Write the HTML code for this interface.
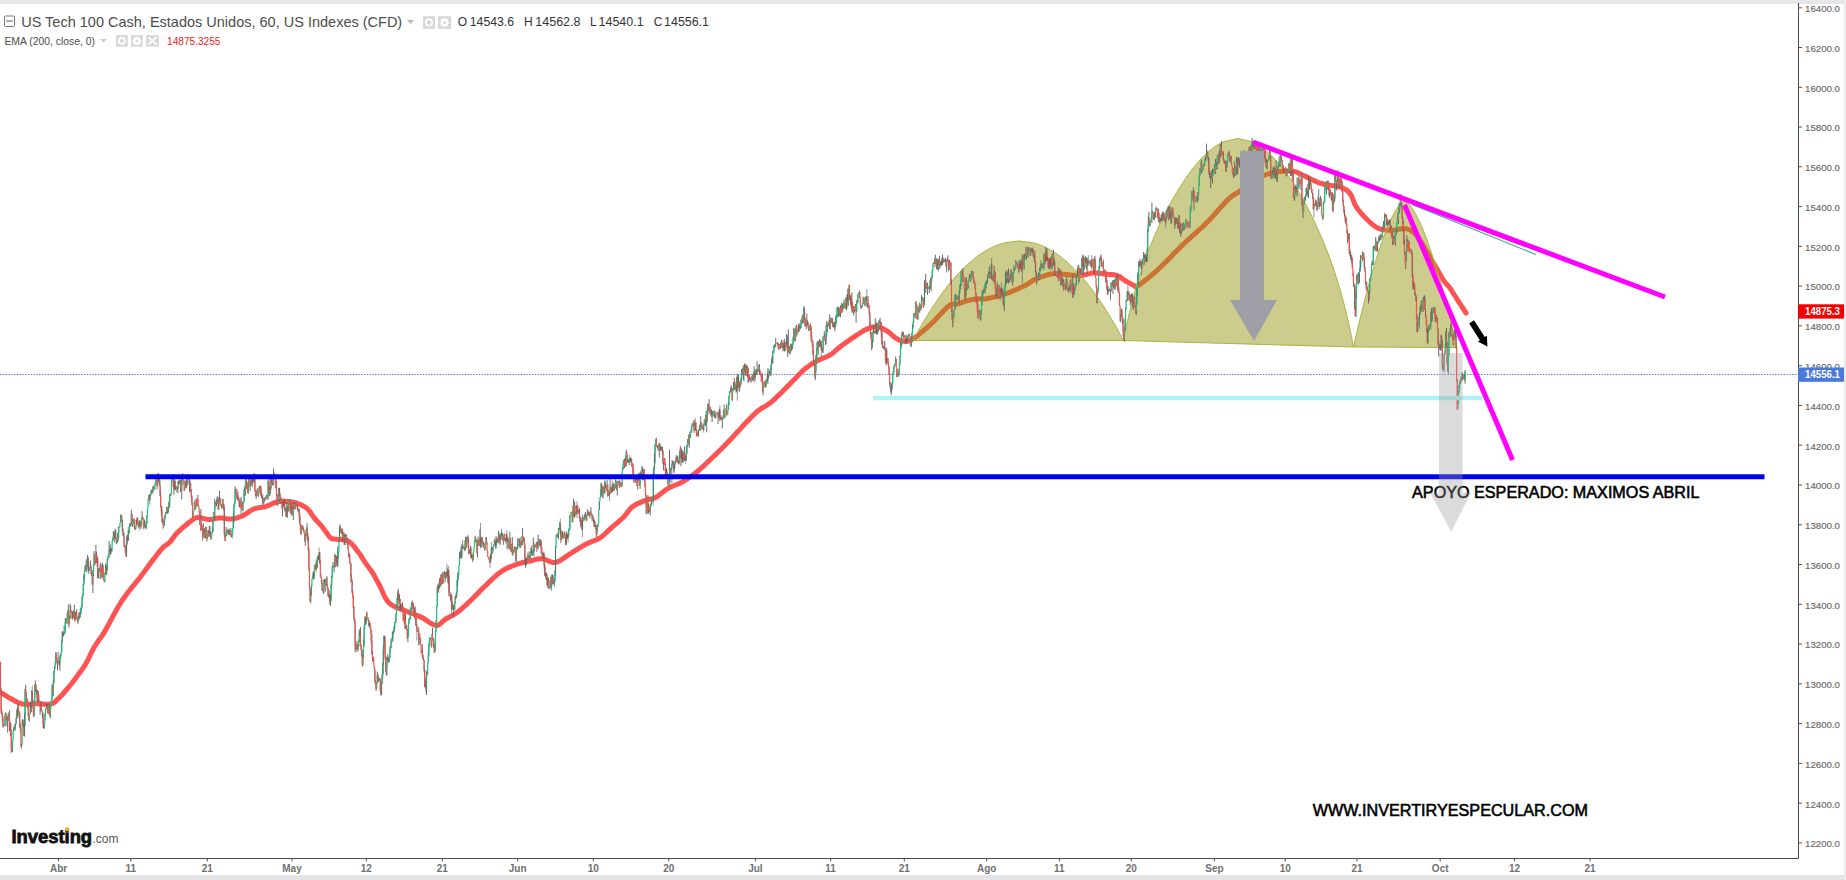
<!DOCTYPE html><html><head><meta charset="utf-8"><style>html,body{margin:0;padding:0;background:#fff;overflow:hidden}svg{display:block}text{font-family:"Liberation Sans",sans-serif}</style></head><body>
<svg width="1846" height="880" viewBox="0 0 1846 880">
<rect width="1846" height="880" fill="#fff"/>
<rect x="0" y="0" width="1846" height="3.5" fill="#e9e9eb"/><rect x="0" y="2.5" width="1846" height="1" fill="#dcdce0"/>
<rect x="0" y="875" width="1846" height="5" fill="#e4e4e6"/>
<rect x="1844" y="0" width="2" height="880" fill="#ebebeb"/>
<line x1="0" y1="374.5" x2="1798" y2="374.5" stroke="#5a70f0" stroke-width="1" stroke-dasharray="1.4,1.4"/>
<path d="M0.0,692.0 L1.2,692.8 L3.0,693.9 L5.0,695.2 L7.2,696.6 L9.4,697.9 L11.4,699.0 L13.2,700.0 L15.0,701.0 L16.8,702.0 L18.7,702.8 L20.6,703.5 L22.7,704.0 L25.0,704.2 L27.4,704.2 L30.0,704.1 L32.5,703.9 L35.1,703.7 L37.5,703.6 L39.9,703.7 L42.3,703.9 L44.7,704.2 L47.0,704.3 L49.1,704.3 L51.0,704.0 L52.6,703.4 L54.0,702.6 L55.3,701.7 L56.4,700.6 L57.7,699.3 L59.0,698.0 L60.4,696.6 L61.9,695.0 L63.4,693.4 L64.9,691.6 L66.5,689.7 L68.2,687.7 L70.0,685.5 L72.0,683.0 L74.0,680.4 L76.0,677.7 L77.8,675.2 L79.5,673.0 L80.9,671.1 L82.1,669.4 L83.2,667.8 L84.3,666.2 L85.3,664.6 L86.4,662.7 L87.6,660.6 L88.7,658.2 L89.9,655.8 L91.0,653.3 L92.1,651.1 L93.2,649.0 L94.2,647.2 L95.2,645.7 L96.1,644.2 L97.1,642.8 L98.0,641.4 L99.0,640.0 L99.9,638.7 L100.6,637.8 L101.3,636.8 L102.2,635.6 L103.4,633.7 L105.0,631.0 L107.1,627.2 L109.7,622.4 L112.5,617.1 L115.5,611.5 L118.7,606.0 L121.8,601.0 L125.0,596.4 L128.4,591.8 L131.9,587.4 L135.4,583.1 L138.9,578.8 L142.2,574.5 L145.5,570.1 L148.8,565.6 L152.1,561.1 L155.3,556.9 L158.2,553.1 L160.7,550.0 L162.8,547.7 L164.6,546.1 L166.1,545.0 L167.4,544.1 L168.7,543.2 L170.0,542.0 L171.2,540.6 L172.2,539.2 L173.2,537.8 L174.2,536.3 L175.5,534.7 L177.0,533.0 L179.0,531.1 L181.4,528.9 L184.0,526.7 L186.6,524.5 L189.0,522.5 L191.0,521.0 L192.5,519.9 L193.7,519.0 L194.7,518.4 L195.6,517.9 L196.7,517.7 L198.0,517.5 L199.6,517.6 L201.4,517.9 L203.2,518.4 L205.2,518.9 L207.1,519.3 L209.0,519.5 L210.8,519.4 L212.7,519.2 L214.5,518.8 L216.3,518.4 L218.1,518.1 L220.0,518.0 L221.9,518.1 L223.8,518.3 L225.7,518.6 L227.6,518.9 L229.5,519.1 L231.4,519.0 L233.3,518.7 L235.2,518.3 L237.1,517.8 L238.9,517.2 L240.8,516.5 L242.7,515.7 L244.6,514.7 L246.5,513.5 L248.3,512.2 L250.2,511.0 L252.1,509.8 L254.0,508.9 L255.9,508.3 L257.8,507.9 L259.8,507.6 L261.7,507.4 L263.6,507.1 L265.5,506.6 L267.4,505.9 L269.3,505.1 L271.2,504.2 L273.0,503.3 L274.9,502.6 L276.8,502.0 L278.7,501.6 L280.6,501.4 L282.6,501.3 L284.5,501.3 L286.4,501.4 L288.2,501.5 L290.0,501.7 L291.7,501.9 L293.4,502.3 L295.1,502.7 L296.8,503.2 L298.4,503.8 L300.0,504.4 L301.6,505.1 L303.2,505.9 L304.7,506.8 L306.1,507.8 L307.5,508.9 L308.8,510.2 L309.9,511.6 L311.0,513.2 L312.0,514.8 L313.1,516.4 L314.3,518.0 L315.6,519.5 L316.9,521.0 L318.2,522.4 L319.6,523.9 L321.0,525.4 L322.3,527.0 L323.6,528.7 L325.0,530.7 L326.4,532.6 L327.7,534.4 L328.9,536.1 L330.0,537.3 L330.8,538.1 L331.4,538.5 L331.9,538.7 L332.5,538.8 L333.3,538.9 L334.6,539.1 L336.4,539.3 L338.6,539.5 L341.1,539.6 L343.6,539.9 L346.1,540.4 L348.2,541.2 L350.0,542.4 L351.7,543.9 L353.3,545.7 L354.9,547.5 L356.3,549.5 L357.8,551.4 L359.3,553.4 L360.7,555.4 L362.1,557.6 L363.4,559.7 L364.7,561.8 L366.0,563.7 L367.2,565.4 L368.4,567.0 L369.5,568.5 L370.6,569.9 L371.7,571.5 L372.8,573.2 L373.9,575.0 L375.0,576.9 L376.0,578.9 L377.1,580.9 L378.3,583.1 L379.6,585.5 L380.9,588.2 L382.3,591.3 L383.7,594.5 L385.3,597.7 L387.1,600.6 L389.1,603.0 L391.5,604.9 L394.2,606.4 L397.1,607.7 L400.1,608.8 L403.1,609.9 L405.9,611.0 L408.6,612.2 L411.3,613.2 L414.0,614.3 L416.7,615.3 L419.3,616.4 L421.8,617.5 L424.3,618.9 L426.8,620.6 L429.3,622.3 L431.7,623.8 L433.9,624.9 L436.0,625.4 L437.9,625.2 L439.5,624.3 L441.0,623.1 L442.5,621.7 L444.1,620.2 L445.7,619.0 L447.5,618.0 L449.2,617.1 L451.1,616.1 L452.9,615.2 L454.8,614.0 L456.8,612.7 L458.8,611.2 L460.8,609.5 L462.9,607.8 L465.0,605.8 L467.2,603.8 L469.5,601.6 L472.0,599.2 L474.6,596.6 L477.2,593.9 L480.0,591.1 L482.7,588.3 L485.4,585.7 L488.1,583.1 L490.7,580.6 L493.4,578.0 L496.1,575.6 L498.7,573.4 L501.4,571.4 L504.1,569.7 L506.8,568.3 L509.6,567.1 L512.2,566.0 L514.8,565.1 L517.3,564.2 L519.6,563.4 L521.8,562.8 L523.9,562.3 L525.9,561.9 L527.9,561.4 L530.0,561.0 L532.0,560.5 L534.1,559.9 L536.1,559.4 L538.1,559.0 L540.1,558.7 L542.2,558.7 L544.3,559.1 L546.4,560.0 L548.6,561.0 L550.8,561.9 L553.1,562.5 L555.5,562.4 L558.0,561.6 L560.7,560.2 L563.5,558.4 L566.3,556.4 L569.0,554.5 L571.7,552.8 L574.3,551.2 L576.8,549.7 L579.3,548.1 L581.7,546.6 L584.1,545.2 L586.5,543.9 L588.8,542.8 L591.1,541.9 L593.3,541.0 L595.5,540.2 L597.7,539.2 L599.8,538.0 L601.9,536.5 L603.8,534.9 L605.8,533.1 L607.7,531.2 L609.7,529.4 L611.6,527.6 L613.6,525.9 L615.6,524.2 L617.7,522.5 L619.7,520.7 L621.6,519.0 L623.4,517.3 L625.0,515.5 L626.4,513.7 L627.8,511.9 L629.1,510.1 L630.6,508.4 L632.3,506.9 L634.3,505.5 L636.5,504.3 L638.9,503.1 L641.2,502.1 L643.5,501.1 L645.6,500.3 L647.5,499.7 L649.2,499.2 L650.9,498.9 L652.5,498.6 L654.2,498.1 L656.0,497.3 L657.9,496.1 L659.7,494.7 L661.6,493.1 L663.6,491.5 L665.6,489.9 L667.8,488.5 L670.1,487.3 L672.5,486.2 L675.0,485.2 L677.6,484.2 L680.1,483.1 L682.6,481.8 L685.0,480.3 L687.5,478.8 L689.9,477.1 L692.4,475.4 L694.8,473.5 L697.3,471.5 L699.8,469.4 L702.3,467.2 L704.8,464.8 L707.4,462.4 L710.0,459.9 L712.7,457.3 L715.5,454.6 L718.4,451.8 L721.3,448.9 L724.2,445.9 L727.1,443.0 L729.8,440.2 L732.4,437.5 L734.9,434.7 L737.4,432.0 L739.8,429.4 L742.1,426.8 L744.5,424.3 L746.8,421.8 L749.1,419.4 L751.4,417.1 L753.7,414.8 L755.9,412.7 L758.2,410.7 L760.4,409.1 L762.5,407.7 L764.6,406.6 L766.7,405.3 L769.1,403.7 L771.8,401.6 L774.9,398.8 L778.5,395.4 L782.2,391.7 L785.9,387.9 L789.4,384.4 L792.5,381.3 L795.1,378.7 L797.3,376.4 L799.3,374.3 L801.1,372.4 L803.0,370.5 L805.0,368.8 L807.1,367.2 L809.2,365.7 L811.2,364.3 L813.3,363.0 L815.4,361.8 L817.5,360.6 L819.6,359.6 L821.7,358.7 L823.8,357.9 L825.8,357.1 L827.9,356.2 L830.0,355.0 L832.1,353.6 L834.2,351.9 L836.2,350.2 L838.3,348.4 L840.4,346.6 L842.5,345.0 L844.6,343.5 L846.7,342.0 L848.8,340.5 L850.8,339.1 L852.9,337.7 L855.0,336.3 L857.1,334.9 L859.3,333.5 L861.4,332.1 L863.5,330.8 L865.6,329.7 L867.5,328.8 L869.3,328.1 L871.0,327.5 L872.7,327.1 L874.3,326.9 L875.9,326.8 L877.5,326.9 L879.2,327.2 L880.9,327.8 L882.7,328.6 L884.4,329.5 L886.0,330.4 L887.5,331.3 L888.9,332.3 L890.2,333.3 L891.5,334.5 L892.7,335.6 L893.8,336.6 L895.0,337.5 L896.1,338.2 L897.1,338.9 L898.0,339.5 L899.0,340.0 L900.1,340.3 L901.3,340.6 L902.6,340.9 L903.9,341.2 L905.4,341.4 L907.0,341.4 L908.8,341.0 L911.0,340.0 L913.6,338.4 L916.7,336.2 L919.9,333.6 L923.3,330.8 L926.7,327.9 L930.0,325.0 L933.3,321.9 L936.6,318.3 L940.0,314.7 L943.2,311.2 L946.2,308.2 L948.8,306.0 L950.8,304.7 L952.4,304.1 L953.7,304.0 L954.9,304.1 L956.1,304.2 L957.5,304.0 L959.1,303.5 L960.7,302.9 L962.4,302.3 L964.1,301.7 L965.8,301.1 L967.5,300.6 L969.2,300.2 L970.9,299.8 L972.6,299.5 L974.3,299.2 L975.9,298.9 L977.5,298.8 L978.9,298.7 L980.1,298.8 L981.2,298.9 L982.4,299.0 L984.0,299.0 L986.0,298.8 L988.6,298.3 L991.6,297.6 L994.8,296.9 L998.3,296.0 L1001.7,295.0 L1005.0,294.0 L1008.2,292.8 L1011.6,291.5 L1014.9,290.1 L1018.2,288.7 L1021.2,287.3 L1024.0,286.0 L1026.4,284.8 L1028.4,283.5 L1030.2,282.3 L1032.0,281.1 L1033.9,280.0 L1036.0,279.0 L1038.4,278.0 L1041.0,277.0 L1043.6,276.1 L1046.3,275.2 L1048.8,274.5 L1051.0,274.0 L1052.9,273.7 L1054.4,273.6 L1055.8,273.6 L1057.2,273.7 L1058.9,273.8 L1061.0,274.0 L1063.7,274.2 L1066.9,274.6 L1070.3,275.0 L1073.8,275.3 L1077.1,275.6 L1080.0,275.6 L1082.5,275.4 L1084.6,274.9 L1086.7,274.3 L1088.6,273.8 L1090.5,273.3 L1092.5,273.0 L1094.6,273.0 L1096.7,273.0 L1098.8,273.2 L1100.8,273.5 L1102.9,273.8 L1105.0,274.0 L1107.2,274.2 L1109.4,274.4 L1111.6,274.6 L1113.8,274.8 L1115.8,275.2 L1117.5,275.6 L1118.9,276.2 L1119.9,276.8 L1120.8,277.5 L1121.7,278.3 L1122.7,279.1 L1124.0,280.0 L1125.7,281.0 L1127.6,282.1 L1129.8,283.3 L1131.8,284.4 L1133.6,285.3 L1135.0,286.0 L1135.7,286.5 L1135.8,287.0 L1135.7,287.4 L1135.7,287.4 L1136.2,287.0 L1137.5,286.0 L1139.8,284.4 L1142.7,282.2 L1146.1,279.6 L1149.8,276.6 L1153.7,273.4 L1157.5,270.0 L1161.4,266.3 L1165.5,262.3 L1169.7,257.9 L1174.0,253.5 L1178.3,249.2 L1182.5,245.0 L1186.7,241.0 L1191.0,237.1 L1195.3,233.3 L1199.5,229.5 L1203.6,225.8 L1207.5,222.0 L1211.2,218.1 L1214.8,214.1 L1218.3,210.1 L1221.6,206.3 L1224.7,202.9 L1227.5,200.0 L1229.9,197.8 L1231.8,196.3 L1233.4,195.1 L1235.2,194.0 L1237.3,192.8 L1240.0,191.0 L1243.4,188.6 L1247.4,185.7 L1251.7,182.7 L1256.2,179.7 L1260.7,177.1 L1265.0,175.0 L1269.3,173.5 L1273.8,172.5 L1278.3,171.8 L1282.6,171.3 L1286.6,171.1 L1290.0,171.0 L1292.7,171.2 L1294.9,171.6 L1296.7,172.2 L1298.4,173.0 L1300.2,174.0 L1302.5,175.0 L1305.2,176.2 L1308.2,177.7 L1311.3,179.3 L1314.6,180.9 L1317.8,182.3 L1321.0,183.5 L1324.2,184.3 L1327.6,184.9 L1331.0,185.4 L1334.3,185.8 L1337.3,186.3 L1340.0,187.0 L1342.2,187.8 L1344.1,188.7 L1345.8,189.6 L1347.3,190.7 L1348.7,192.0 L1350.0,193.5 L1351.2,195.3 L1352.2,197.5 L1353.1,199.8 L1354.0,202.2 L1355.0,204.6 L1356.3,206.9 L1357.9,209.2 L1359.7,211.5 L1361.6,213.8 L1363.6,216.0 L1365.6,218.1 L1367.5,220.0 L1369.4,221.8 L1371.2,223.4 L1373.0,225.0 L1374.9,226.3 L1376.8,227.5 L1378.8,228.5 L1380.9,229.2 L1383.0,229.7 L1385.2,230.0 L1387.5,230.2 L1389.7,230.3 L1391.9,230.3 L1394.1,230.1 L1396.4,229.7 L1398.7,229.2 L1400.9,228.8 L1403.0,228.5 L1405.0,228.5 L1406.8,228.8 L1408.4,229.3 L1409.9,229.9 L1411.4,230.8 L1412.9,231.9 L1414.4,233.2 L1416.0,234.9 L1417.6,237.0 L1419.2,239.2 L1420.8,241.7 L1422.4,244.0 L1423.8,246.3 L1425.1,248.5 L1426.4,250.7 L1427.6,252.8 L1428.8,255.0 L1429.9,257.0 L1431.0,259.0 L1432.1,260.8 L1433.1,262.5 L1434.0,264.0 L1435.0,265.6 L1436.0,267.2 L1437.0,269.0 L1438.1,270.9 L1439.3,273.0 L1440.5,275.2 L1441.7,277.3 L1442.9,279.3 L1444.0,281.0 L1445.1,282.5 L1446.1,283.7 L1447.2,284.8 L1448.2,285.9 L1449.1,286.9 L1450.0,288.0 L1450.7,289.1 L1451.4,290.0 L1451.9,291.0 L1452.5,292.0 L1453.2,293.1 L1454.0,294.5 L1455.1,296.2 L1456.4,298.1 L1457.7,300.2 L1459.1,302.3 L1460.4,304.3 L1461.5,306.0 L1462.5,307.5 L1463.4,308.9 L1464.2,310.2 L1464.9,311.4 L1465.5,312.3 L1466.0,313.0" fill="none" stroke="#ff5252" stroke-width="5" stroke-linejoin="round" stroke-linecap="round"/>
<path d="M913.00,340.50 L913.89,338.84 L914.78,337.18 L915.68,335.52 L916.59,333.87 L917.51,332.21 L918.44,330.55 L919.38,328.89 L920.32,327.23 L921.27,325.57 L922.24,323.92 L923.21,322.26 L924.19,320.60 L925.18,318.94 L926.19,317.28 L927.20,315.62 L928.23,313.97 L929.26,312.31 L930.31,310.65 L931.38,308.99 L932.45,307.33 L933.54,305.68 L934.64,304.02 L935.76,302.36 L936.89,300.70 L938.04,299.04 L939.21,297.38 L940.39,295.73 L941.59,294.07 L942.81,292.41 L944.05,290.75 L945.31,289.09 L946.59,287.43 L947.89,285.77 L949.22,284.12 L950.58,282.46 L951.96,280.80 L953.37,279.14 L954.81,277.48 L956.29,275.82 L957.80,274.17 L959.35,272.51 L960.94,270.85 L962.58,269.19 L964.26,267.53 L966.00,265.88 L967.80,264.22 L969.66,262.56 L971.60,260.90 L973.61,259.24 L975.73,257.58 L977.95,255.93 L980.29,254.27 L982.79,252.61 L985.48,250.95 L988.40,249.29 L991.63,247.63 L995.30,245.97 L999.65,244.32 L1005.32,242.66 L1019.00,241.00 L1032.49,242.66 L1038.08,244.32 L1042.37,245.97 L1045.98,247.63 L1049.17,249.29 L1052.05,250.95 L1054.69,252.61 L1057.16,254.27 L1059.47,255.93 L1061.66,257.58 L1063.74,259.24 L1065.73,260.90 L1067.64,262.56 L1069.48,264.22 L1071.25,265.88 L1072.96,267.53 L1074.62,269.19 L1076.24,270.85 L1077.81,272.51 L1079.33,274.17 L1080.82,275.82 L1082.28,277.48 L1083.70,279.14 L1085.09,280.80 L1086.45,282.46 L1087.79,284.12 L1089.10,285.77 L1090.39,287.43 L1091.65,289.09 L1092.89,290.75 L1094.11,292.41 L1095.32,294.07 L1096.50,295.73 L1097.66,297.38 L1098.81,299.04 L1099.95,300.70 L1101.06,302.36 L1102.16,304.02 L1103.25,305.68 L1104.32,307.33 L1105.38,308.99 L1106.43,310.65 L1107.47,312.31 L1108.49,313.97 L1109.50,315.62 L1110.50,317.28 L1111.49,318.94 L1112.47,320.60 L1113.44,322.26 L1114.40,323.92 L1115.34,325.57 L1116.28,327.23 L1117.22,328.89 L1118.14,330.55 L1119.05,332.21 L1119.96,333.87 L1120.85,335.52 L1121.74,337.18 L1122.63,338.84 L1123.50,340.50 Z" fill="rgba(151,151,20,0.49)" stroke="#a8b440" stroke-width="1" stroke-linejoin="round"/>
<path d="M1123.50,340.50 L1124.16,337.13 L1124.84,333.77 L1125.53,330.40 L1126.23,327.03 L1126.96,323.67 L1127.70,320.30 L1128.46,316.93 L1129.24,313.57 L1130.04,310.20 L1130.86,306.83 L1131.71,303.47 L1132.58,300.10 L1133.47,296.73 L1134.39,293.37 L1135.33,290.00 L1136.30,286.63 L1137.30,283.27 L1138.33,279.90 L1139.38,276.53 L1140.46,273.17 L1141.57,269.80 L1142.72,266.43 L1143.89,263.07 L1145.09,259.70 L1146.33,256.33 L1147.59,252.97 L1148.89,249.60 L1150.22,246.23 L1151.59,242.87 L1152.99,239.50 L1154.42,236.13 L1155.89,232.77 L1157.40,229.40 L1158.94,226.03 L1160.52,222.67 L1162.14,219.30 L1163.80,215.93 L1165.50,212.57 L1167.24,209.20 L1169.03,205.83 L1170.87,202.47 L1172.75,199.10 L1174.68,195.73 L1176.68,192.37 L1178.73,189.00 L1180.84,185.63 L1183.03,182.27 L1185.29,178.90 L1187.64,175.53 L1190.09,172.17 L1192.65,168.80 L1195.34,165.43 L1198.19,162.07 L1201.23,158.70 L1204.52,155.33 L1208.13,151.97 L1212.20,148.60 L1216.99,145.23 L1223.18,141.87 L1238.00,138.50 L1252.95,141.97 L1259.20,145.45 L1264.03,148.93 L1268.13,152.40 L1271.77,155.88 L1275.09,159.35 L1278.16,162.82 L1281.03,166.30 L1283.75,169.78 L1286.33,173.25 L1288.80,176.72 L1291.17,180.20 L1293.45,183.68 L1295.66,187.15 L1297.79,190.62 L1299.86,194.10 L1301.87,197.57 L1303.82,201.05 L1305.72,204.52 L1307.57,208.00 L1309.37,211.47 L1311.13,214.95 L1312.85,218.43 L1314.52,221.90 L1316.16,225.38 L1317.75,228.85 L1319.31,232.32 L1320.82,235.80 L1322.31,239.28 L1323.75,242.75 L1325.17,246.23 L1326.54,249.70 L1327.89,253.18 L1329.20,256.65 L1330.48,260.12 L1331.72,263.60 L1332.93,267.08 L1334.12,270.55 L1335.27,274.02 L1336.39,277.50 L1337.48,280.98 L1338.54,284.45 L1339.58,287.93 L1340.58,291.40 L1341.56,294.88 L1342.51,298.35 L1343.44,301.82 L1344.34,305.30 L1345.22,308.77 L1346.07,312.25 L1346.90,315.73 L1347.71,319.20 L1348.50,322.67 L1349.27,326.15 L1350.01,329.62 L1350.74,333.10 L1351.46,336.57 L1352.15,340.05 L1352.83,343.52 L1353.50,347.00 Z" fill="rgba(151,151,20,0.49)" stroke="#a8b440" stroke-width="1" stroke-linejoin="round"/>
<path d="M1353.50,347.00 L1354.05,344.57 L1354.59,342.13 L1355.15,339.70 L1355.70,337.27 L1356.26,334.83 L1356.83,332.40 L1357.39,329.97 L1357.96,327.53 L1358.54,325.10 L1359.12,322.67 L1359.70,320.23 L1360.29,317.80 L1360.88,315.37 L1361.48,312.93 L1362.08,310.50 L1362.68,308.07 L1363.29,305.63 L1363.91,303.20 L1364.53,300.77 L1365.16,298.33 L1365.79,295.90 L1366.43,293.47 L1367.07,291.03 L1367.72,288.60 L1368.38,286.17 L1369.04,283.73 L1369.71,281.30 L1370.39,278.87 L1371.08,276.43 L1371.77,274.00 L1372.48,271.57 L1373.19,269.13 L1373.91,266.70 L1374.64,264.27 L1375.38,261.83 L1376.13,259.40 L1376.89,256.97 L1377.66,254.53 L1378.45,252.10 L1379.25,249.67 L1380.07,247.23 L1380.90,244.80 L1381.75,242.37 L1382.61,239.93 L1383.50,237.50 L1384.41,235.07 L1385.34,232.63 L1386.29,230.20 L1387.28,227.77 L1388.30,225.33 L1389.36,222.90 L1390.45,220.47 L1391.61,218.03 L1392.82,215.60 L1394.10,213.17 L1395.49,210.73 L1397.00,208.30 L1398.72,205.87 L1400.79,203.43 L1404.50,201.00 L1408.32,203.44 L1410.45,205.88 L1412.22,208.32 L1413.78,210.77 L1415.20,213.21 L1416.53,215.65 L1417.77,218.09 L1418.96,220.53 L1420.09,222.97 L1421.18,225.42 L1422.23,227.86 L1423.24,230.30 L1424.23,232.74 L1425.19,235.18 L1426.12,237.62 L1427.03,240.07 L1427.92,242.51 L1428.80,244.95 L1429.65,247.39 L1430.49,249.83 L1431.31,252.28 L1432.12,254.72 L1432.92,257.16 L1433.71,259.60 L1434.48,262.04 L1435.24,264.48 L1435.99,266.93 L1436.73,269.37 L1437.47,271.81 L1438.19,274.25 L1438.90,276.69 L1439.61,279.13 L1440.31,281.57 L1441.00,284.02 L1441.68,286.46 L1442.36,288.90 L1443.03,291.34 L1443.69,293.78 L1444.35,296.23 L1445.00,298.67 L1445.65,301.11 L1446.29,303.55 L1446.92,305.99 L1447.55,308.43 L1448.17,310.88 L1448.79,313.32 L1449.40,315.76 L1450.01,318.20 L1450.62,320.64 L1451.22,323.08 L1451.81,325.52 L1452.41,327.97 L1452.99,330.41 L1453.58,332.85 L1454.16,335.29 L1454.73,337.73 L1455.30,340.17 L1455.87,342.62 L1456.44,345.06 L1457.00,347.50 Z" fill="rgba(151,151,20,0.49)" stroke="#a8b440" stroke-width="1" stroke-linejoin="round"/>
<path d="M1.10,687.8V713.5M1.70,709.9V714.3M2.30,712.8V721.5M2.90,716.3V727.6M3.50,724.5V726.8M4.10,724.3V725.7M5.30,712.7V716.8M5.90,712.5V726.1M7.70,716.5V732.7M8.30,713.0V721.0M8.90,712.6V715.0M9.50,710.4V731.1M10.70,722.9V736.2M11.30,729.8V752.8M12.50,740.8V751.9M14.30,726.4V730.3M14.90,724.3V727.5M17.90,703.3V718.4M18.50,705.5V712.6M19.10,710.7V715.2M19.70,712.5V727.6M20.30,723.4V732.5M22.70,719.1V724.9M23.90,724.2V736.1M25.10,688.7V726.0M25.70,684.8V695.4M26.30,691.9V702.0M28.10,705.4V716.6M29.30,713.7V722.0M31.10,702.4V706.8M31.70,690.2V712.2M33.50,707.8V716.8M34.10,699.5V716.2M34.70,684.4V701.4M35.30,680.6V691.9M35.90,684.4V691.9M36.50,688.5V694.8M37.10,690.8V700.7M37.70,690.2V702.2M38.30,691.2V701.6M38.90,695.0V701.9M40.10,701.1V714.7M40.70,705.6V711.2M41.30,702.6V710.7M43.10,712.8V727.7M44.90,713.6V721.0M46.10,707.7V708.9M46.70,704.1V708.2M47.30,704.3V711.3M47.90,707.7V713.6M48.50,705.1V713.8M49.10,704.3V706.6M49.70,704.2V716.3M50.30,708.6V718.3M52.10,684.6V700.2M52.70,684.4V693.1M53.30,679.6V696.0M53.90,670.9V683.4M54.50,665.6V672.9M55.70,652.3V665.1M56.90,652.3V663.5M57.50,659.3V670.4M59.90,655.7V670.8M60.50,653.9V659.1M61.70,640.5V653.1M62.90,631.4V634.5M63.50,632.2V636.5M64.10,625.6V635.3M65.30,618.3V632.9M65.90,618.0V622.3M66.50,621.9V623.4M67.10,612.7V623.8M68.30,604.6V620.1M68.90,619.1V627.6M69.50,615.8V624.5M70.10,603.5V618.9M70.70,605.4V613.2M71.30,610.5V612.5M73.10,611.8V614.3M73.70,610.4V617.8M74.30,604.6V618.6M76.70,609.6V618.6M77.90,616.9V624.3M78.50,615.8V620.1M80.30,608.9V617.3M80.90,607.5V614.3M81.50,605.6V610.2M82.10,596.5V607.6M82.70,593.8V598.5M83.30,583.5V595.4M83.90,573.9V584.9M84.50,570.2V580.2M85.70,565.3V569.5M86.30,559.2V571.8M87.50,555.1V567.0M90.50,560.5V568.1M91.70,571.7V576.3M92.30,573.8V584.8M92.90,570.0V593.0M93.50,564.6V576.2M94.10,551.1V565.9M94.70,554.0V563.5M95.30,558.9V564.3M95.90,544.9V560.9M96.50,551.8V563.0M97.70,557.2V578.6M98.90,567.9V577.9M99.50,568.3V571.4M100.70,562.5V579.2M101.30,567.8V572.4M101.90,564.5V578.4M102.50,563.2V577.0M103.10,565.1V572.1M103.70,572.0V580.4M105.50,563.7V574.5M106.70,566.2V574.9M107.30,559.1V570.5M107.90,555.5V560.6M109.10,541.0V557.9M110.30,544.4V554.9M112.70,538.1V541.7M113.30,531.3V539.7M113.90,531.3V539.4M115.10,528.8V533.8M116.30,538.8V544.2M116.90,538.4V543.3M117.50,533.8V542.4M118.10,532.8V541.1M118.70,526.2V537.9M120.50,514.7V523.1M121.70,514.8V521.7M123.50,533.6V535.9M125.30,545.2V552.9M129.50,523.7V533.5M130.70,522.8V526.6M131.30,509.8V524.3M131.90,513.6V525.1M132.50,519.4V527.0M133.10,518.0V523.6M133.70,519.9V522.3M134.30,518.9V528.6M134.90,525.6V529.6M135.50,527.7V529.9M137.30,517.0V524.5M139.70,520.4V525.7M140.30,521.3V527.0M140.90,520.6V529.1M141.50,518.1V525.7M142.10,511.1V519.1M142.70,516.3V519.6M143.90,526.8V529.5M144.50,519.5V527.0M145.70,524.7V527.5M146.30,522.8V529.3M146.90,515.3V523.9M149.30,494.4V500.5M150.50,492.8V496.4M151.70,490.1V492.7M152.90,485.7V492.0M153.50,486.4V490.4M154.70,484.6V489.7M155.30,482.8V484.9M155.90,478.1V484.5M157.10,477.9V489.4M158.30,473.1V481.3M158.90,476.6V483.3M160.70,492.5V507.3M161.90,506.6V522.1M162.50,518.0V523.3M163.10,521.5V528.7M163.70,519.5V525.4M164.30,516.6V526.1M164.90,515.1V519.4M165.50,511.9V516.3M166.70,506.5V513.0M167.30,507.7V514.0M167.90,507.2V513.4M168.50,502.1V511.7M169.10,501.0V506.4M169.70,494.0V508.0M171.50,479.2V494.1M173.30,474.5V486.7M173.90,485.7V494.9M176.90,486.7V492.7M177.50,487.2V489.9M179.30,479.4V483.8M180.50,479.8V492.0M181.70,479.0V499.4M182.30,475.7V480.0M182.90,473.1V484.8M185.30,480.8V487.4M186.50,478.8V488.2M187.70,474.2V484.9M189.50,478.2V492.1M191.30,489.0V498.0M191.90,495.5V505.1M192.50,502.6V517.1M193.10,511.0V517.6M194.90,500.0V506.3M195.50,505.3V509.6M197.90,494.9V506.8M199.70,511.4V524.9M200.30,518.9V521.1M200.90,509.1V531.0M201.50,523.6V530.2M202.10,525.0V529.9M202.70,528.5V540.5M203.30,523.2V537.7M203.90,530.2V532.8M204.50,528.3V537.6M205.10,535.4V538.2M205.70,526.7V538.5M206.90,530.4V541.6M208.10,529.8V536.8M208.70,530.8V534.7M209.30,526.0V536.7M209.90,525.8V536.3M210.50,531.5V538.8M211.10,536.9V540.0M212.90,520.0V532.0M214.10,512.1V518.8M214.70,498.6V519.1M216.50,499.6V506.0M217.10,496.3V503.9M217.70,497.8V502.0M219.50,490.9V501.7M220.70,498.2V505.3M221.30,504.1V506.5M221.90,504.8V509.1M223.70,503.7V510.6M225.50,534.6V541.0M226.10,526.9V536.3M226.70,530.7V536.0M227.30,529.6V531.7M228.50,530.7V534.6M229.70,529.9V534.9M230.90,528.0V536.7M231.50,534.6V536.9M232.10,533.8V538.3M233.90,503.9V523.1M234.50,502.1V506.8M235.10,486.2V504.0M235.70,489.2V494.6M236.90,488.6V498.9M237.50,495.2V500.0M239.30,501.2V507.3M241.10,496.8V513.7M242.30,501.7V510.2M242.90,504.4V511.2M244.10,489.1V502.4M244.70,487.2V496.0M245.30,484.8V495.5M245.90,478.6V485.3M247.10,482.2V489.3M248.30,482.0V493.7M248.90,475.3V487.8M249.50,478.5V480.5M250.10,479.3V491.1M250.70,479.7V485.8M251.30,476.9V486.1M251.90,482.0V484.1M254.30,473.0V481.1M254.90,477.2V491.5M255.50,490.6V495.9M256.10,493.8V498.9M256.70,490.3V496.6M258.50,492.0V496.8M259.70,485.7V490.8M260.30,486.1V494.5M260.90,485.8V496.0M261.50,491.8V497.9M262.10,495.8V498.9M262.70,494.3V505.6M263.30,498.0V502.7M263.90,497.8V504.3M264.50,497.7V501.3M265.10,497.6V500.8M266.30,495.2V498.8M266.90,494.4V498.9M268.10,479.3V500.0M269.90,475.8V495.9M270.50,487.8V494.0M272.30,476.8V485.1M272.90,476.8V485.9M273.50,468.4V484.8M274.10,474.0V478.7M275.30,474.6V488.3M276.50,480.9V496.1M277.10,493.8V505.9M277.70,499.1V505.3M278.90,487.7V501.8M280.10,493.0V500.1M280.70,498.2V499.3M281.30,497.5V503.4M282.50,501.8V516.5M284.30,498.7V509.7M284.90,506.9V511.5M286.10,502.0V511.0M286.70,507.6V517.2M287.90,503.3V506.5M289.70,499.2V505.5M290.30,499.5V513.5M291.50,502.9V515.0M293.30,503.4V520.0M293.90,502.7V509.5M294.50,502.1V509.3M295.10,504.0V508.0M295.70,503.7V509.3M298.10,508.5V512.0M299.30,508.7V522.2M299.90,513.5V525.3M301.10,525.3V535.2M301.70,525.1V530.2M302.30,525.9V530.1M302.90,525.6V529.2M303.50,527.7V531.6M304.70,533.3V541.7M305.30,534.9V546.2M306.50,527.4V533.1M307.10,523.2V539.9M308.30,536.6V550.8M308.90,547.6V570.5M310.10,588.0V601.7M310.70,592.7V603.4M314.90,564.4V566.8M316.70,561.5V568.9M317.30,556.2V567.8M317.90,557.1V560.7M319.70,552.1V563.9M320.90,573.2V577.7M321.50,577.1V584.1M322.70,589.7V591.3M323.30,589.2V593.6M323.90,579.3V593.6M324.50,579.1V585.2M325.70,579.2V591.5M326.90,576.2V586.0M327.50,584.2V589.0M328.10,587.8V596.5M330.50,594.8V606.1M331.10,583.0V601.2M331.70,575.8V586.4M332.30,566.3V577.8M334.10,561.6V572.5M334.70,553.8V567.3M335.30,554.8V567.1M335.90,556.6V565.3M337.70,546.3V567.1M338.30,551.5V558.9M340.10,524.2V530.2M340.70,527.8V532.8M341.30,532.0V533.6M342.50,528.7V541.3M343.10,538.4V540.1M343.70,531.9V540.1M344.90,533.5V545.0M345.50,534.4V537.3M346.70,534.5V540.9M347.30,538.7V544.7M347.90,540.4V549.4M348.50,549.1V556.6M349.10,553.0V558.3M349.70,554.5V563.7M350.90,562.6V582.5M351.50,574.5V581.0M352.70,590.4V597.5M353.30,595.9V608.3M353.90,606.2V620.3M355.10,619.7V652.3M355.70,644.4V649.4M356.30,645.3V648.9M356.90,641.0V652.2M358.10,644.7V650.9M358.70,639.5V647.0M359.30,629.3V642.0M360.50,627.2V646.0M361.10,644.3V650.4M361.70,649.6V656.4M362.30,654.0V666.6M362.90,649.6V665.5M363.50,639.3V657.8M364.10,625.5V647.2M365.30,616.5V625.5M366.50,611.6V623.4M371.30,629.7V644.3M371.90,633.9V654.7M372.50,651.5V661.7M374.90,669.2V682.9M375.50,680.2V684.8M376.10,681.5V690.9M377.30,671.6V683.7M378.50,677.4V681.8M379.70,678.8V680.9M380.30,678.5V691.2M380.90,689.4V695.5M382.10,673.5V684.1M382.70,662.6V679.5M383.90,635.4V651.8M385.10,636.7V660.1M385.70,656.0V671.9M386.30,667.6V675.2M386.90,657.1V675.6M388.10,657.7V662.6M389.90,646.3V658.6M391.10,638.6V648.1M391.70,639.2V641.4M392.90,632.1V642.0M393.50,630.4V634.0M394.70,621.8V630.2M395.90,613.3V623.0M396.50,605.5V613.9M397.10,597.6V608.5M398.30,588.8V600.1M398.90,598.3V604.8M399.50,594.1V603.3M401.30,603.9V610.3M402.50,602.2V608.0M403.70,611.9V621.3M404.30,612.3V624.5M404.90,616.4V629.1M405.50,613.8V628.4M406.10,624.7V627.4M406.70,625.5V630.6M407.30,628.9V639.0M407.90,631.6V642.1M409.10,618.0V623.7M409.70,618.4V620.0M410.30,607.3V619.3M412.10,600.6V606.0M412.70,601.8V609.5M413.30,602.9V611.0M413.90,607.1V612.3M414.50,608.0V612.2M415.10,606.1V619.7M415.70,613.2V625.7M418.10,630.5V631.9M418.70,627.2V645.2M419.90,633.3V644.8M422.30,644.1V657.5M422.90,654.7V659.2M423.50,657.1V660.9M424.70,668.8V687.1M425.30,677.7V688.1M426.50,671.2V695.0M428.30,651.4V662.6M428.90,642.8V656.2M429.50,638.3V645.3M430.10,637.1V638.8M431.30,640.8V647.8M432.50,627.9V639.9M433.10,639.4V641.9M433.70,637.9V648.0M434.30,642.8V653.0M435.50,631.0V650.9M436.10,619.9V631.5M437.30,586.2V606.7M437.90,584.3V592.6M439.10,581.7V588.8M440.30,577.6V586.1M440.90,574.1V586.0M441.50,574.9V583.8M442.70,572.5V583.9M443.90,572.2V576.9M444.50,571.1V576.4M445.10,576.1V582.1M446.30,571.7V574.6M448.10,569.8V576.8M449.30,575.5V593.6M451.10,593.2V601.9M452.30,601.2V609.7M452.90,604.2V605.2M454.70,602.1V610.2M455.30,595.8V603.3M457.70,572.9V586.6M458.30,571.6V579.7M459.50,552.4V565.7M460.10,551.5V558.8M461.30,550.1V558.6M461.90,544.2V557.8M463.10,545.4V548.7M464.90,546.7V550.6M465.50,536.7V550.1M466.10,541.2V547.7M466.70,536.8V548.2M467.90,535.1V543.8M468.50,537.6V553.7M469.10,549.3V554.3M470.30,546.6V554.0M472.70,554.4V561.9M475.10,535.8V542.5M475.70,537.7V542.1M476.90,540.4V553.0M477.50,539.7V557.4M478.10,536.6V541.0M479.30,540.1V546.0M479.90,529.3V543.2M481.10,539.0V547.5M482.90,540.9V547.4M483.50,541.6V544.7M484.10,543.0V548.1M484.70,547.0V550.8M485.90,536.9V545.0M486.50,537.6V541.9M490.70,554.0V562.4M491.90,546.7V554.1M493.10,546.8V551.3M496.10,536.0V548.8M497.90,537.6V543.0M498.50,530.7V541.7M499.10,535.1V543.8M500.30,534.9V544.9M500.90,533.4V540.0M502.70,535.2V540.5M503.30,535.8V544.9M504.50,533.7V540.3M509.30,546.9V548.9M509.90,531.6V549.3M511.10,549.7V551.9M511.70,543.8V552.1M512.30,537.1V554.9M512.90,550.6V555.7M513.50,549.8V552.4M514.10,547.0V552.7M514.70,546.1V549.8M515.90,546.9V561.9M516.50,547.1V560.9M517.70,538.1V549.0M518.90,538.6V545.9M519.50,539.6V545.9M520.10,537.3V548.1M521.30,540.2V546.0M522.50,528.0V545.0M526.70,558.1V559.5M527.90,552.7V559.5M529.70,556.2V559.0M530.30,551.4V558.4M532.10,551.3V554.1M532.70,550.6V556.1M533.30,537.8V552.5M533.90,542.9V556.2M534.50,546.6V551.1M536.30,541.5V546.6M536.90,543.1V551.8M537.50,542.1V548.3M538.10,534.6V549.2M538.70,539.4V544.1M539.30,539.0V545.4M539.90,543.4V546.1M541.10,540.3V552.9M541.70,546.4V554.9M542.30,553.0V557.8M542.90,551.9V558.5M543.50,553.0V556.9M544.70,563.9V576.3M546.50,572.8V580.3M547.10,574.2V586.1M548.30,577.2V582.7M548.90,579.5V589.4M550.10,586.1V587.6M550.70,576.8V587.9M551.30,574.7V590.5M551.90,581.7V585.5M552.50,574.5V584.1M553.70,583.1V584.2M554.30,578.9V586.6M554.90,570.2V581.9M557.30,534.3V536.3M557.90,532.3V537.7M558.50,527.9V539.4M559.70,522.2V530.0M560.90,529.2V542.9M562.10,531.4V534.2M564.50,531.7V537.6M565.10,534.9V537.9M565.70,535.4V545.4M566.90,532.4V538.2M568.70,528.6V536.1M569.90,514.9V530.2M572.30,510.6V522.6M573.50,498.9V515.8M574.10,505.0V518.1M574.70,501.5V517.0M576.50,505.5V514.6M578.30,510.0V512.5M578.90,509.6V513.5M579.50,507.9V519.0M580.70,518.0V527.3M581.30,520.3V525.0M583.10,516.9V521.5M584.30,514.8V520.6M585.50,511.9V515.7M586.10,514.9V520.3M586.70,515.7V521.3M587.90,509.9V514.6M588.50,511.8V515.6M589.70,512.1V517.9M590.30,510.6V515.6M590.90,507.1V515.4M593.90,518.6V527.0M594.50,520.3V526.7M595.10,521.3V526.9M595.70,524.1V529.0M596.30,525.0V537.5M596.90,525.6V534.8M597.50,524.7V531.3M600.50,489.8V497.4M601.10,482.4V491.6M602.90,485.9V498.1M604.70,480.6V494.0M605.90,484.6V488.5M607.10,479.8V491.3M607.70,484.4V496.7M608.30,490.1V495.9M608.90,492.6V495.8M610.10,478.0V494.0M613.10,485.4V489.1M613.70,483.0V491.3M614.30,484.2V490.4M615.50,479.5V487.9M616.10,480.4V484.5M616.70,483.4V490.3M617.30,485.2V495.3M617.90,480.4V486.7M619.70,480.2V488.2M620.90,482.3V486.8M621.50,481.9V486.8M622.70,467.1V470.7M623.30,462.6V468.8M624.50,458.6V468.3M625.10,459.4V465.3M625.70,455.6V466.6M626.30,449.7V466.3M628.70,459.3V463.1M629.30,458.7V465.2M631.10,457.9V462.1M631.70,458.8V466.5M632.30,463.9V467.9M632.90,463.3V478.8M633.50,469.7V481.2M634.10,475.7V483.0M635.30,476.3V482.0M635.90,476.5V483.0M636.50,477.7V480.1M637.10,476.0V486.1M637.70,479.4V489.6M638.90,472.8V481.4M640.10,472.5V488.8M641.90,466.0V478.3M642.50,466.9V480.1M643.10,472.8V480.5M643.70,468.9V480.0M644.90,477.3V487.6M646.10,494.6V514.3M646.70,502.7V513.7M647.90,495.1V509.0M648.50,503.5V513.7M649.10,505.9V511.9M649.70,507.5V512.1M650.30,503.8V515.6M650.90,503.1V506.9M652.10,497.2V502.6M652.70,497.2V501.5M653.90,466.3V477.4M655.10,443.7V463.4M656.30,437.6V445.6M658.10,445.9V450.8M658.70,444.0V449.5M659.30,443.1V457.4M659.90,443.2V447.9M662.90,450.1V463.8M663.50,459.8V470.5M664.70,458.0V465.0M665.30,462.8V477.3M665.90,468.7V478.3M666.50,467.9V476.8M668.90,478.3V486.6M669.50,449.6V481.0M670.10,467.9V483.2M670.70,468.6V473.5M671.30,467.2V469.9M672.50,460.8V464.5M677.30,455.4V462.9M679.70,450.3V457.9M680.30,446.1V458.0M680.90,447.6V466.3M683.30,451.5V461.9M683.90,454.1V458.9M684.50,446.6V461.1M685.10,455.7V459.5M686.30,446.7V461.0M686.90,445.1V454.1M687.50,439.1V447.0M688.10,439.2V443.9M688.70,434.7V444.8M689.30,434.5V447.8M689.90,431.7V438.2M691.10,428.7V432.8M691.70,425.4V432.4M692.30,423.2V426.3M693.50,420.5V426.0M694.10,420.3V432.8M694.70,428.9V429.7M695.90,422.4V431.1M696.50,429.5V436.2M697.10,431.4V435.0M700.70,416.2V431.1M701.90,423.6V428.9M703.10,426.1V429.9M704.90,419.0V421.8M705.50,414.7V425.8M706.10,410.8V423.5M706.70,417.4V432.3M707.30,407.9V421.4M709.10,399.3V412.7M710.30,406.6V414.0M710.90,412.9V415.7M711.50,409.3V417.1M712.10,412.6V422.1M712.70,410.9V416.4M713.30,411.0V413.2M713.90,410.6V416.3M715.70,414.9V418.4M717.50,412.7V414.4M718.10,411.9V423.9M720.50,417.2V419.8M721.10,415.1V420.1M722.30,417.9V428.5M722.90,416.6V419.6M723.50,409.8V417.8M724.10,404.6V417.4M724.70,414.4V418.6M726.50,404.7V414.7M728.30,402.4V410.3M728.90,395.6V405.7M731.30,385.1V391.4M732.50,388.5V400.8M733.10,388.3V391.1M734.30,377.9V388.6M734.90,387.1V389.9M735.50,383.7V390.0M736.10,381.3V392.7M736.70,376.8V392.0M737.90,373.9V391.0M738.50,375.0V387.9M739.70,381.5V392.0M740.30,381.3V386.4M740.90,377.3V385.1M741.50,369.1V381.5M742.70,368.1V373.5M743.30,365.2V379.6M743.90,367.9V381.2M745.10,364.1V375.8M745.70,367.0V373.5M747.50,366.9V376.3M748.10,367.7V382.9M748.70,375.0V382.2M749.30,374.3V380.5M749.90,378.4V380.5M750.50,378.8V381.1M751.10,376.4V382.9M752.30,373.8V379.6M752.90,375.3V381.4M753.50,371.9V380.5M754.10,366.1V377.4M755.90,369.2V374.8M756.50,369.1V373.8M757.10,361.3V370.2M758.90,364.8V371.3M759.50,364.1V374.2M761.90,372.8V382.2M762.50,374.1V392.2M763.10,382.3V395.4M764.30,381.6V383.6M764.90,381.2V387.6M765.50,382.3V387.6M766.10,379.0V386.8M767.90,367.9V384.2M769.10,369.3V375.7M770.90,364.3V376.3M771.50,358.5V370.4M772.70,350.7V363.6M773.90,345.0V353.1M774.50,344.4V347.7M775.70,338.1V347.4M777.50,342.4V345.3M778.70,343.1V350.0M779.90,345.8V349.2M780.50,342.8V348.3M781.10,342.5V348.2M781.70,339.7V346.8M783.50,343.2V348.7M784.10,339.6V351.2M785.90,342.1V350.6M786.50,334.2V346.8M787.10,342.9V345.4M787.70,335.2V356.9M788.30,329.3V352.6M788.90,345.8V349.4M789.50,346.5V353.9M790.10,349.9V354.3M790.70,343.7V350.2M791.30,343.8V351.4M793.10,336.7V345.3M793.70,327.9V340.8M794.30,328.9V338.7M794.90,337.7V341.9M795.50,328.3V340.8M796.10,325.7V333.0M796.70,324.5V336.6M797.90,328.9V332.1M799.10,324.4V331.9M800.30,326.7V329.0M800.90,319.7V328.2M802.10,316.2V323.9M802.70,314.4V322.8M803.30,314.5V323.5M803.90,305.9V318.1M805.70,318.8V326.7M806.30,321.8V329.3M806.90,313.5V325.6M808.70,324.7V331.0M809.90,325.2V331.2M810.50,323.5V330.1M811.10,325.8V340.9M811.70,331.9V341.8M812.30,341.0V347.0M812.90,340.3V355.0M813.50,350.5V360.8M814.10,360.0V365.1M814.70,363.0V377.6M815.30,370.8V380.2M815.90,355.1V375.3M816.50,347.9V358.1M817.70,340.8V343.7M818.30,342.1V355.2M819.50,339.0V347.0M820.70,340.1V347.0M822.50,347.6V352.5M823.10,336.1V353.1M824.30,331.3V336.5M824.90,334.4V341.0M825.50,338.4V345.1M826.10,325.0V343.8M826.70,321.2V336.8M827.30,322.5V332.4M829.10,319.7V327.3M829.70,314.4V329.2M830.30,322.7V329.1M830.90,317.4V323.4M831.50,318.1V322.9M832.70,317.9V326.6M833.30,322.6V327.5M834.50,321.7V329.5M835.70,315.9V326.5M836.30,314.4V323.7M836.90,307.3V318.0M837.50,307.5V317.0M838.10,306.7V312.0M839.30,309.9V316.2M839.90,307.5V316.4M840.50,305.4V317.2M841.10,305.5V313.1M841.70,302.7V312.9M842.30,303.8V312.3M842.90,304.4V310.5M844.10,299.5V307.7M845.30,301.9V308.6M845.90,297.7V304.6M846.50,297.8V310.4M848.30,288.5V306.2M849.50,284.4V300.1M850.70,294.9V305.1M851.90,292.3V312.8M852.50,301.7V311.5M853.10,306.3V312.6M853.70,305.9V315.6M855.50,304.1V310.5M856.10,310.1V322.7M856.70,300.0V311.9M857.90,294.1V302.9M859.70,290.5V297.9M862.10,305.1V307.2M863.30,296.8V303.7M863.90,296.8V304.0M865.10,297.8V306.4M867.50,303.9V307.6M868.10,296.1V305.9M869.30,305.6V314.6M869.90,312.0V326.5M870.50,323.7V335.4M871.10,332.1V338.8M871.70,338.1V350.4M872.30,340.9V348.0M873.50,325.7V332.5M874.10,330.8V333.3M875.30,318.2V333.1M875.90,325.6V333.7M877.10,323.2V334.8M877.70,326.2V334.2M878.30,323.6V331.8M878.90,320.4V324.0M879.50,320.6V323.5M880.10,317.8V329.1M880.70,322.1V325.4M881.30,321.9V338.2M882.50,341.3V348.0M884.30,341.3V348.7M886.10,347.6V365.6M887.90,357.9V364.6M889.10,366.5V374.3M892.10,382.2V389.5M892.70,373.3V384.4M893.30,371.1V374.1M893.90,365.7V372.8M894.50,365.0V366.3M895.10,363.3V366.1M895.70,356.3V363.7M896.90,368.4V377.2M898.10,369.3V374.9M898.70,372.9V376.7M899.90,355.6V365.1M900.50,342.0V356.4M901.10,343.9V348.8M901.70,333.7V345.3M903.50,331.9V338.0M904.10,334.9V337.2M905.30,337.0V341.4M905.90,334.8V342.5M906.50,337.9V343.4M907.10,335.9V341.2M907.70,335.8V340.3M908.30,334.2V337.9M910.70,340.7V346.2M911.30,336.0V347.2M911.90,332.6V341.8M912.50,324.9V334.4M914.90,313.9V318.1M915.50,301.7V315.6M916.10,301.5V318.9M917.90,304.7V319.9M918.50,307.4V312.5M919.10,308.9V311.4M919.70,302.5V312.7M921.50,295.1V308.2M922.10,297.2V301.4M922.70,297.0V299.3M923.30,298.5V308.2M925.10,279.6V281.3M925.70,274.0V292.9M926.90,283.0V287.1M927.50,282.6V294.8M928.70,287.0V288.4M929.30,284.9V292.9M930.50,278.9V288.8M931.10,277.1V291.4M931.70,276.6V282.9M932.30,269.8V278.2M935.30,254.6V263.9M936.50,258.3V269.2M937.70,259.1V269.8M938.90,258.5V268.9M939.50,256.1V265.7M942.50,254.9V265.0M943.70,258.9V262.8M945.50,258.0V262.1M946.10,260.7V266.6M946.70,260.1V272.4M947.90,255.3V262.2M948.50,261.2V270.7M949.10,259.9V270.2M949.70,260.0V266.9M950.90,262.3V284.7M951.50,279.4V312.1M952.10,307.0V320.3M952.70,314.9V327.3M953.90,310.5V318.0M954.50,296.8V311.5M955.10,294.1V309.9M956.30,294.6V300.7M956.90,296.8V299.9M958.10,295.9V299.1M958.70,294.8V300.0M959.30,290.3V303.1M960.50,283.8V289.0M961.10,270.9V285.8M962.30,270.1V274.4M962.90,268.1V281.8M964.70,288.7V298.0M965.30,290.7V299.8M966.50,277.5V289.8M967.10,283.9V290.4M967.70,283.4V286.3M968.30,280.2V288.5M969.50,274.2V278.4M970.10,274.1V281.5M970.70,276.1V281.7M971.30,271.1V277.8M971.90,270.8V272.9M972.50,272.2V275.5M973.10,271.3V279.4M973.70,276.8V283.1M974.90,281.8V288.8M976.10,292.3V302.5M976.70,297.6V302.7M977.30,300.3V312.4M977.90,303.5V318.4M978.50,310.7V318.6M979.70,309.7V316.2M980.30,314.9V319.8M980.90,310.4V320.7M981.50,301.3V314.1M982.10,290.6V305.1M982.70,291.8V297.9M983.30,289.7V294.2M985.10,283.2V293.5M985.70,282.4V288.9M986.90,280.4V283.7M988.10,275.5V277.8M988.70,271.3V277.5M989.30,266.4V275.0M989.90,273.6V278.2M990.50,272.4V278.6M992.90,275.3V281.0M993.50,273.5V280.6M994.10,265.6V283.5M994.70,271.2V279.4M995.30,271.9V289.5M995.90,288.6V294.4M996.50,292.8V296.6M997.70,284.1V290.7M998.30,287.4V292.7M999.50,285.3V297.3M1000.10,288.6V300.3M1001.90,287.3V295.7M1002.50,288.6V295.8M1003.70,301.9V307.1M1004.30,294.2V311.2M1004.90,284.4V295.8M1006.10,270.4V282.3M1006.70,272.7V283.9M1007.30,272.5V282.3M1008.50,268.4V283.5M1009.10,277.5V281.2M1009.70,274.0V282.5M1010.90,269.6V279.6M1011.50,269.6V277.5M1012.10,271.7V282.8M1012.70,277.4V285.8M1013.30,272.0V281.2M1013.90,265.5V273.1M1014.50,268.5V270.3M1015.10,268.1V270.2M1015.70,259.8V269.0M1016.90,261.7V265.2M1018.10,263.6V268.8M1018.70,264.5V272.7M1019.30,260.5V271.3M1021.70,260.1V271.9M1024.10,255.5V270.0M1025.90,246.8V258.4M1026.50,247.4V259.6M1027.10,247.5V257.2M1028.30,246.8V257.3M1028.90,249.3V251.7M1030.10,247.2V255.5M1030.70,248.2V256.0M1034.90,250.9V263.1M1036.70,272.8V284.8M1037.90,276.7V278.3M1038.50,272.7V279.8M1039.70,267.4V280.3M1041.50,263.5V265.0M1042.10,263.2V268.1M1043.30,263.7V268.1M1043.90,253.5V270.1M1044.50,253.7V262.5M1045.10,254.7V264.5M1046.90,248.7V260.8M1048.10,257.9V267.9M1048.70,260.8V268.8M1051.10,256.5V269.8M1051.70,257.2V266.7M1052.30,253.4V268.6M1052.90,253.4V257.0M1053.50,249.7V265.5M1054.10,257.9V264.1M1055.30,272.2V275.0M1059.50,270.2V278.9M1060.10,272.2V281.2M1060.70,269.4V285.6M1061.30,275.4V279.2M1061.90,276.2V284.9M1063.70,279.2V290.6M1065.50,284.9V290.4M1066.10,279.1V290.0M1066.70,276.4V289.9M1067.30,281.1V283.7M1069.10,286.6V289.9M1070.30,280.4V287.3M1070.90,278.6V293.3M1072.10,283.5V289.9M1072.70,275.4V297.3M1074.50,287.0V294.9M1075.70,284.3V289.1M1078.10,264.9V268.8M1078.70,265.3V283.6M1079.30,268.4V281.4M1079.90,268.4V273.7M1081.10,268.9V273.3M1081.70,258.0V272.8M1082.30,258.8V266.8M1083.50,255.7V274.3M1085.90,256.8V267.4M1086.50,257.7V269.0M1087.10,257.8V273.9M1088.90,261.8V265.6M1090.70,260.1V266.0M1091.30,263.7V267.8M1093.10,259.5V267.7M1093.70,263.7V272.6M1094.30,257.4V273.9M1094.90,256.0V268.3M1096.70,284.9V302.8M1097.30,291.8V303.4M1097.90,288.4V293.4M1099.70,258.4V268.9M1100.30,256.6V261.6M1100.90,254.4V260.5M1101.50,257.8V266.6M1102.10,265.3V267.3M1103.30,259.6V272.5M1105.10,271.0V273.1M1105.70,270.2V282.6M1106.30,276.5V281.3M1106.90,279.7V290.0M1109.90,288.5V291.0M1110.50,289.3V299.8M1111.10,282.1V291.7M1112.90,280.0V293.9M1113.50,280.1V287.7M1114.10,281.2V286.0M1114.70,279.4V289.7M1115.30,278.2V289.3M1116.50,276.4V285.7M1117.70,274.7V291.0M1118.30,275.0V293.2M1119.50,292.0V306.0M1121.90,309.3V317.2M1122.50,315.7V323.5M1123.10,317.6V336.1M1123.70,329.5V339.4M1124.30,326.8V341.8M1124.90,319.3V331.1M1125.50,307.3V330.9M1127.30,291.0V300.5M1128.50,293.1V294.8M1129.10,291.4V300.5M1130.30,294.5V305.5M1131.50,294.1V302.4M1133.30,301.3V310.1M1134.50,296.6V307.2M1135.10,305.0V307.2M1135.70,305.0V313.4M1136.30,292.6V315.1M1136.90,287.8V305.2M1137.50,273.9V295.9M1138.10,271.8V285.2M1138.70,260.9V275.8M1141.10,263.5V269.6M1143.50,252.1V259.6M1145.30,254.5V260.9M1147.70,228.9V250.4M1148.30,216.5V231.6M1148.90,211.7V226.8M1150.10,221.0V226.3M1151.30,216.1V221.5M1151.90,202.4V222.9M1153.70,213.3V219.5M1154.90,212.3V217.5M1155.50,209.2V217.4M1156.10,206.7V210.6M1156.70,207.7V210.0M1157.90,208.4V218.9M1158.50,209.5V222.0M1159.10,212.9V222.2M1159.70,217.7V223.7M1163.30,212.3V221.0M1163.90,212.6V214.7M1164.50,213.7V220.1M1166.30,210.8V220.1M1166.90,209.4V217.5M1167.50,208.8V211.2M1168.10,206.1V217.5M1168.70,207.7V220.5M1169.30,206.3V213.4M1171.10,212.7V224.1M1171.70,209.4V222.9M1172.30,207.1V216.6M1172.90,208.3V215.1M1173.50,214.1V217.4M1174.70,217.8V228.8M1177.10,217.9V224.1M1177.70,219.4V228.5M1178.30,219.9V228.9M1178.90,214.8V221.3M1179.50,215.7V233.0M1180.10,224.8V229.5M1180.70,222.6V236.7M1181.30,227.3V234.3M1181.90,223.3V231.1M1182.50,224.3V231.4M1183.70,222.1V230.5M1184.30,226.0V227.7M1184.90,224.7V229.7M1186.10,218.7V221.7M1187.90,221.6V227.8M1189.70,224.9V228.4M1190.30,207.0V226.3M1190.90,205.7V211.6M1192.10,191.0V196.4M1192.70,194.3V199.3M1193.30,187.3V201.5M1193.90,190.2V210.2M1197.50,192.1V202.4M1198.10,192.8V200.4M1199.30,174.6V186.0M1199.90,168.1V176.1M1201.10,161.7V173.5M1201.70,159.6V172.8M1202.30,169.6V171.3M1202.90,166.4V170.1M1203.50,164.1V167.3M1204.10,164.0V165.0M1204.70,159.2V166.0M1205.90,155.8V160.6M1206.50,143.7V157.5M1207.10,150.4V156.5M1207.70,151.8V158.4M1210.10,172.8V178.7M1210.70,174.8V188.2M1211.30,170.3V177.0M1211.90,173.9V179.5M1212.50,169.2V183.5M1213.10,169.4V175.9M1214.30,163.9V168.6M1214.90,168.2V173.6M1215.50,159.1V174.1M1216.70,162.4V169.4M1217.30,154.6V169.0M1218.50,154.3V164.2M1220.30,144.3V158.2M1220.90,143.7V149.1M1221.50,141.2V156.0M1222.70,151.2V154.6M1223.90,158.8V162.7M1224.50,161.5V163.4M1225.10,160.8V164.7M1225.70,160.4V171.3M1226.30,163.3V171.7M1227.50,155.1V163.2M1228.10,152.2V155.9M1228.70,154.4V156.1M1229.30,150.6V161.4M1229.90,156.3V160.7M1232.90,167.6V174.9M1233.50,169.0V178.1M1234.10,167.8V175.1M1234.70,161.4V176.5M1235.30,167.4V169.1M1235.90,165.8V175.7M1236.50,156.8V173.2M1237.10,157.8V174.7M1238.30,157.2V164.8M1238.90,157.5V163.4M1240.70,151.4V160.2M1241.90,160.4V168.7M1242.50,154.3V170.3M1244.30,149.9V160.6M1244.90,153.7V156.3M1246.10,152.4V159.1M1247.30,155.2V159.8M1248.50,150.5V157.5M1249.10,147.1V154.5M1249.70,146.4V155.4M1250.30,147.2V156.6M1250.90,145.5V150.8M1251.50,144.9V153.3M1252.10,137.8V153.4M1253.30,144.6V146.3M1254.50,142.1V148.8M1255.70,141.2V149.2M1256.30,141.8V152.0M1256.90,145.5V150.8M1257.50,146.1V157.9M1258.10,151.6V158.9M1259.90,150.2V157.3M1260.50,149.0V155.1M1261.70,145.3V156.1M1262.30,152.6V161.4M1263.50,146.6V150.1M1264.10,147.2V149.9M1264.70,146.2V158.9M1265.30,151.4V162.9M1265.90,158.0V167.1M1266.50,159.0V168.1M1267.10,160.5V169.5M1269.50,148.5V158.9M1270.10,149.7V160.1M1270.70,156.2V177.3M1271.30,172.5V179.2M1271.90,176.8V178.7M1272.50,170.3V177.6M1273.10,166.8V177.3M1273.70,168.4V172.8M1274.90,168.3V174.6M1275.50,168.1V178.8M1276.10,160.6V174.0M1277.30,166.1V181.7M1277.90,166.0V170.1M1278.50,162.8V168.4M1279.10,156.7V166.6M1280.30,154.6V166.6M1280.90,151.5V158.8M1282.10,159.9V165.8M1282.70,165.3V168.2M1283.30,164.9V171.7M1284.50,169.9V173.5M1285.70,166.9V172.4M1286.30,171.3V176.5M1286.90,169.5V175.7M1287.50,169.5V172.1M1288.10,169.9V172.0M1289.30,163.0V173.1M1289.90,168.9V173.0M1290.50,156.7V176.0M1291.10,156.0V171.2M1291.70,159.5V175.9M1292.30,155.2V181.3M1294.70,187.2V200.4M1295.30,185.6V191.9M1295.90,184.7V194.2M1297.10,177.7V196.6M1298.30,177.8V188.3M1298.90,176.3V186.0M1299.50,183.2V183.8M1300.10,179.8V189.6M1300.70,179.6V184.1M1301.30,173.3V184.1M1301.90,172.8V205.8M1303.10,209.4V218.0M1304.30,196.6V203.8M1304.90,197.1V199.9M1308.50,175.4V198.2M1310.30,177.9V183.5M1310.90,182.6V186.4M1311.50,186.1V192.5M1313.30,197.2V209.6M1315.70,200.5V204.7M1316.30,200.3V204.9M1317.50,202.7V210.3M1318.10,196.4V207.2M1318.70,189.3V203.9M1319.90,198.1V207.0M1320.50,195.9V205.5M1321.10,198.1V202.7M1322.90,214.8V220.2M1323.50,201.4V218.2M1324.70,186.3V202.3M1325.30,185.6V187.5M1325.90,183.2V190.5M1326.50,181.1V194.4M1327.70,180.5V189.5M1328.30,180.9V189.7M1328.90,183.3V195.7M1329.50,183.3V197.8M1330.10,189.3V194.7M1331.90,192.0V201.2M1333.70,194.0V204.6M1335.50,174.4V181.4M1336.70,181.5V190.5M1337.90,170.1V180.9M1339.10,178.8V187.5M1339.70,177.7V187.5M1340.90,175.0V185.0M1342.10,181.5V191.9M1342.70,191.4V201.7M1343.30,199.5V206.2M1343.90,206.0V213.0M1345.10,214.8V221.6M1345.70,216.3V223.6M1346.30,217.4V225.0M1347.50,229.7V243.2M1349.30,233.0V254.3M1349.90,248.7V255.6M1351.70,254.7V263.0M1352.30,257.7V268.1M1353.50,272.9V286.7M1354.10,284.6V286.3M1355.30,301.8V316.4M1355.90,285.8V317.0M1356.50,275.1V298.8M1357.10,274.0V280.6M1358.30,272.2V284.9M1359.50,268.9V283.0M1360.10,260.2V272.0M1362.50,251.4V261.2M1363.70,252.4V258.2M1364.90,266.8V271.7M1366.10,283.9V289.6M1366.70,281.4V288.2M1367.30,287.5V291.3M1368.50,289.9V303.3M1369.70,278.3V293.1M1370.30,278.1V280.7M1371.50,264.4V275.3M1372.70,261.8V265.1M1373.30,245.9V265.2M1373.90,246.6V248.7M1374.50,246.0V249.7M1375.10,244.5V251.4M1375.70,237.1V248.2M1376.30,241.0V249.8M1376.90,246.9V251.6M1378.10,239.3V244.2M1378.70,237.1V241.5M1379.30,235.4V241.5M1380.50,234.1V240.2M1381.10,235.3V239.7M1381.70,235.0V236.1M1382.30,227.9V238.1M1383.50,221.0V227.1M1384.10,222.6V227.5M1386.50,214.7V225.1M1387.10,218.2V226.8M1387.70,219.5V225.1M1389.50,219.7V223.4M1390.70,225.4V230.3M1391.30,225.5V235.9M1391.90,231.2V238.5M1392.50,232.9V244.8M1393.10,241.1V245.0M1393.70,236.0V244.4M1394.30,234.3V240.0M1395.50,230.4V245.7M1396.10,226.5V235.3M1396.70,222.3V232.7M1397.90,212.4V221.0M1398.50,208.0V223.8M1399.10,203.2V214.0M1399.70,203.8V211.6M1400.30,194.4V205.9M1402.10,206.4V218.8M1403.30,220.9V231.7M1404.50,239.1V255.1M1405.70,251.5V269.1M1406.30,251.1V260.9M1406.90,235.6V252.1M1407.50,239.3V248.2M1408.10,240.9V250.5M1408.70,240.3V251.0M1410.50,248.7V249.9M1411.10,249.9V252.7M1411.70,249.3V254.6M1412.90,274.6V289.3M1414.70,284.4V294.6M1415.30,292.4V296.0M1416.50,296.8V318.6M1417.10,314.4V331.8M1418.30,318.0V324.6M1418.90,316.8V319.7M1420.10,306.5V314.5M1421.30,300.7V311.4M1421.90,300.2V306.4M1423.10,297.6V311.5M1423.70,296.9V302.0M1424.30,295.3V301.5M1426.70,319.2V332.4M1427.90,330.3V344.2M1429.70,324.7V330.2M1431.50,308.3V321.9M1432.70,308.3V309.1M1433.90,306.7V313.2M1434.50,308.2V313.7M1435.10,307.7V322.3M1435.70,315.9V319.0M1436.30,314.8V321.4M1437.50,317.4V329.1M1438.70,340.7V356.5M1439.30,343.8V349.6M1440.50,344.4V350.5M1442.30,339.5V369.6M1442.90,365.6V370.5M1444.10,354.2V372.4M1446.50,328.0V347.8M1447.10,341.8V364.0M1447.70,359.3V371.3M1448.30,354.2V373.8M1448.90,332.1V356.2M1449.50,334.3V337.1M1450.10,328.4V337.0M1451.30,322.0V326.5M1452.50,334.1V340.5M1454.90,328.6V332.9M1457.30,379.0V409.9M1458.50,390.9V403.8M1459.10,385.0V392.9M1459.70,381.3V389.6M1460.30,380.0V383.8M1460.90,376.9V383.6M1461.50,376.7V380.9M1462.10,371.9V380.4M1462.70,373.9V378.6M1463.90,373.8V379.8M1464.50,373.7V380.5M1465.10,370.2V383.8" stroke="#5c5c5c" stroke-width="0.9" fill="none" opacity="1"/>
<path d="M4.70,715.7V725.6M5.30,713.8V715.7M6.50,718.0V719.7M7.70,718.1V720.9M8.30,713.4V718.1M8.90,712.6V713.4M10.10,724.0V728.5M12.50,741.1V750.8M13.10,731.6V741.1M13.70,729.0V731.6M14.30,726.6V729.0M14.90,724.4V726.6M15.50,723.6V724.4M16.10,718.5V723.7M16.70,709.4V718.5M17.90,706.4V716.0M21.50,744.8V746.7M22.10,720.2V744.8M24.50,715.9V736.1M25.10,689.7V715.9M28.10,707.0V707.9M29.30,714.3V720.3M29.90,712.9V714.3M30.50,705.0V712.9M31.10,702.7V705.0M31.70,691.7V702.7M34.10,701.0V716.1M34.70,686.5V701.0M35.30,684.8V686.5M37.70,693.6V698.3M44.30,720.8V728.3M44.90,715.3V720.8M45.50,708.7V715.3M46.10,707.8V708.7M46.70,706.5V707.8M48.50,705.9V712.9M49.10,705.0V705.9M50.30,708.8V714.5M50.90,706.0V708.8M51.50,699.2V706.0M52.10,685.6V699.2M53.30,682.7V691.6M53.90,670.9V682.7M54.50,668.7V670.9M55.10,662.3V668.7M55.70,654.6V662.3M58.10,662.5V663.3M58.70,661.1V662.8M59.90,657.3V665.2M60.50,656.5V657.3M61.10,651.9V656.8M61.70,641.0V651.9M62.30,631.9V641.0M64.10,631.9V633.6M65.30,621.2V632.8M67.10,619.0V623.1M67.70,610.1V619.0M69.50,618.3V624.1M70.10,610.4V618.3M72.50,612.9V618.7M73.10,611.9V612.9M74.30,612.7V617.7M75.50,612.1V620.3M77.90,619.8V621.7M78.50,619.0V619.8M79.10,612.6V619.3M80.30,613.9V617.3M80.90,608.1V613.9M81.50,606.1V608.1M82.10,596.8V606.1M82.70,594.2V596.8M83.30,584.5V594.2M83.90,575.8V584.5M84.50,570.2V575.8M85.10,566.3V570.2M86.30,561.6V567.0M87.50,557.5V561.8M89.30,567.1V571.0M90.50,567.0V567.8M92.90,573.9V584.3M93.50,565.5V573.9M94.10,554.8V565.5M95.30,558.9V563.5M95.90,554.4V558.9M97.10,558.0V562.4M98.30,571.1V577.6M98.90,570.3V571.1M99.50,570.2V571.0M100.10,564.7V570.2M101.30,568.0V572.4M102.50,567.1V576.1M104.90,572.9V582.2M105.50,568.0V572.9M106.70,569.2V572.9M107.30,559.1V569.2M107.90,557.4V559.1M108.50,554.7V557.4M109.10,550.4V554.7M109.70,549.5V550.4M110.90,549.0V553.6M112.10,541.0V551.2M112.70,539.2V541.0M113.30,535.7V539.2M114.50,533.3V538.1M115.10,531.1V533.3M116.90,538.4V541.1M118.10,532.9V539.2M118.70,526.9V532.9M119.90,523.0V527.2M120.50,517.8V523.0M121.10,515.4V517.8M124.70,545.4V546.2M126.50,544.3V556.3M127.10,535.5V544.3M128.30,530.4V540.2M129.50,524.4V532.6M130.10,523.6V524.4M130.70,522.9V523.7M131.30,514.0V523.4M132.50,520.1V524.4M136.10,520.0V528.8M137.30,518.6V524.3M139.10,521.9V527.6M140.30,523.7V524.6M141.50,518.4V525.6M142.10,517.5V518.4M143.90,526.8V527.9M144.50,523.8V526.8M146.30,523.4V527.0M146.90,515.6V523.4M147.50,508.8V515.6M148.10,499.1V508.8M148.70,494.9V499.1M149.90,495.5V500.2M150.50,493.1V495.5M151.10,491.3V493.1M152.90,487.4V491.7M154.10,488.8V489.6M154.70,484.6V488.9M155.30,483.5V484.6M155.90,481.8V483.5M156.50,480.5V481.8M157.70,473.8V486.3M158.90,477.9V480.1M164.30,519.3V525.2M164.90,515.3V519.3M165.50,513.5V515.3M166.10,512.0V513.5M166.70,507.8V512.0M167.90,507.5V513.3M168.50,502.2V507.5M169.70,494.2V504.9M170.90,492.9V495.9M171.50,481.4V492.9M172.10,478.2V481.4M174.50,481.1V488.9M175.70,485.9V490.0M178.10,481.6V488.6M179.30,480.2V482.8M181.70,479.8V489.8M182.30,475.7V479.8M183.50,480.0V481.1M184.70,486.7V490.9M185.30,482.2V486.7M186.50,485.9V487.7M187.10,478.0V485.9M193.10,511.6V517.1M193.70,510.4V511.6M194.30,501.9V510.4M196.10,498.6V507.4M197.30,498.9V505.5M200.30,518.9V520.3M201.50,526.0V530.0M203.30,530.7V537.3M205.70,526.8V537.6M207.50,536.4V538.9M208.10,532.8V536.4M209.90,533.7V535.3M211.10,537.4V538.2M211.70,532.5V537.6M212.30,531.7V532.5M212.90,521.7V531.9M213.50,512.1V521.7M214.70,503.0V515.7M216.50,502.2V503.5M217.10,499.3V502.2M218.90,498.9V509.2M222.50,499.0V508.0M225.50,536.1V540.9M226.10,531.7V536.1M226.70,530.8V531.7M227.30,529.8V530.8M229.10,531.7V534.5M229.70,530.9V531.7M230.30,530.1V530.9M231.50,535.4V536.2M232.10,534.0V535.9M232.70,527.8V534.0M233.30,517.4V527.8M233.90,506.5V517.4M234.50,502.1V506.5M235.10,489.4V502.1M236.30,491.7V492.5M237.50,495.5V498.6M239.90,500.2V506.4M241.70,503.1V508.5M242.90,504.6V509.9M243.50,501.3V504.6M244.10,490.4V501.3M245.30,485.2V494.3M245.90,478.9V485.2M247.10,483.8V488.9M248.30,482.1V493.3M248.90,479.1V482.1M250.70,480.2V485.8M252.50,477.5V482.4M253.70,479.2V481.3M256.70,493.1V495.9M257.30,488.2V493.1M258.50,492.8V495.9M259.10,486.2V492.8M260.30,487.3V490.8M263.90,498.2V501.2M265.10,498.0V500.6M265.70,496.9V498.0M266.30,496.1V496.9M266.90,495.6V496.5M268.10,480.9V497.1M269.30,486.6V490.0M270.50,488.0V494.0M271.10,477.6V488.0M272.30,479.0V483.5M273.50,475.4V483.4M274.70,476.9V477.8M275.30,476.1V476.9M277.70,503.1V505.1M278.30,495.6V503.1M278.90,488.4V495.6M280.70,498.0V498.8M282.50,502.3V508.9M283.70,502.8V505.9M287.30,506.5V516.6M287.90,503.6V506.5M289.10,504.6V511.4M289.70,499.8V504.6M290.90,504.7V508.3M292.10,505.8V514.8M293.30,504.2V508.8M294.50,504.1V509.1M295.70,504.3V506.4M296.30,502.4V504.3M301.10,526.1V533.7M302.90,527.8V528.6M305.30,535.6V540.3M305.90,532.8V535.6M306.50,527.9V532.8M310.70,594.2V601.5M311.30,586.7V594.2M311.90,578.9V586.7M312.50,575.8V578.9M313.10,572.8V575.8M314.30,565.2V578.6M316.10,562.7V569.9M317.30,559.8V566.8M317.90,558.6V559.8M318.50,554.9V558.6M319.10,552.2V554.9M323.30,590.3V591.1M323.90,584.8V591.0M324.50,583.2V584.8M325.70,579.3V585.7M326.30,577.8V579.3M328.70,595.0V595.9M330.50,600.8V603.8M331.10,585.6V600.8M331.70,576.8V585.6M332.30,566.6V576.8M332.90,565.2V566.6M334.70,555.6V567.2M335.90,559.4V565.1M336.50,557.3V559.4M337.70,552.6V565.9M338.30,551.8V552.6M338.90,541.2V552.3M339.50,526.5V541.2M341.90,528.9V533.0M343.70,535.0V538.7M344.90,537.0V544.8M345.50,536.0V537.0M356.90,643.7V648.2M358.10,646.6V649.6M358.70,640.5V646.6M359.30,632.5V640.5M362.90,655.7V664.4M363.50,644.5V655.7M364.10,628.3V644.5M364.70,616.7V628.3M365.90,620.8V622.8M366.50,612.5V620.8M369.50,622.8V626.1M373.10,656.7V658.6M376.70,683.6V689.3M377.30,674.7V683.6M378.50,677.4V680.6M381.50,683.6V694.6M382.10,676.2V683.6M382.70,665.2V676.2M383.30,649.9V665.2M383.90,636.0V649.9M386.30,667.8V671.1M386.90,657.1V667.8M389.30,657.1V661.9M389.90,651.3V657.1M390.50,647.7V651.3M391.10,640.3V647.7M391.70,639.4V640.3M392.30,636.8V639.4M392.90,632.3V636.8M393.50,631.5V632.3M394.10,626.7V632.2M394.70,623.6V626.7M395.30,621.8V623.6M395.90,613.7V621.8M396.50,606.9V613.7M397.10,599.0V606.9M397.70,592.5V599.0M399.50,598.9V602.8M400.70,604.4V608.4M401.90,607.6V608.4M402.50,606.1V607.6M403.70,612.4V620.7M404.90,620.6V622.7M406.10,625.7V626.5M407.90,636.8V637.7M408.50,621.0V636.8M409.10,618.9V621.0M409.70,618.1V618.9M410.30,609.8V618.7M411.50,602.4V611.1M412.70,603.0V603.8M414.50,608.4V610.3M415.70,615.5V618.4M418.10,630.6V631.4M419.30,639.3V640.1M419.90,637.8V639.6M421.70,650.3V653.3M426.50,672.5V689.4M427.70,662.5V674.3M428.30,653.6V662.5M428.90,644.6V653.6M429.50,638.4V644.6M430.10,637.6V638.4M431.90,634.1V645.9M434.90,649.0V652.7M435.50,631.3V649.0M436.10,621.4V631.3M436.70,605.8V621.4M437.30,587.0V605.8M438.50,585.0V591.7M439.70,578.8V587.5M440.90,575.0V585.6M442.10,572.7V583.2M443.30,576.8V583.4M443.90,572.2V576.8M445.70,572.8V578.0M447.50,575.2V576.3M448.10,569.9V575.2M451.10,596.2V600.3M452.30,605.0V609.3M454.10,608.8V609.6M454.70,602.3V609.1M455.30,596.0V602.3M456.50,592.1V598.0M457.10,580.3V592.1M457.70,577.2V580.3M458.30,574.8V577.2M458.90,565.6V574.8M459.50,558.3V565.6M460.10,553.9V558.3M460.70,551.2V553.9M461.90,546.7V555.3M462.50,545.9V546.7M464.30,547.7V548.5M465.50,541.4V549.2M466.70,542.8V546.2M467.30,536.5V542.8M469.10,552.5V553.6M469.70,551.5V552.5M470.30,548.2V551.5M471.50,554.8V557.4M473.30,551.8V560.0M473.90,547.6V551.8M474.50,540.5V547.6M475.10,537.8V540.5M476.30,540.4V541.3M477.50,540.6V552.5M478.10,539.8V540.6M479.30,542.3V546.0M479.90,537.7V542.3M481.10,540.9V546.5M481.70,537.3V540.9M483.50,543.0V544.7M485.30,544.7V549.5M485.90,541.8V544.7M490.10,556.5V562.7M491.30,547.4V558.3M492.50,550.6V553.4M493.10,547.1V550.6M493.70,544.1V547.1M494.30,539.9V544.1M496.10,539.8V546.0M497.30,537.8V542.5M498.50,535.7V540.6M499.70,537.5V540.1M500.90,535.2V538.9M501.50,532.7V535.2M503.90,533.9V541.0M505.70,539.3V540.1M506.30,534.4V540.0M507.50,538.8V542.1M508.70,546.7V547.5M509.90,538.1V548.0M511.70,544.8V550.9M512.90,551.0V553.4M513.50,550.2V551.0M514.10,549.3V550.9M514.70,547.5V549.3M516.50,549.7V560.5M517.10,548.9V549.7M517.70,545.3V549.0M518.30,544.5V545.3M518.90,543.9V544.7M519.50,542.4V544.2M520.70,542.1V547.6M521.90,536.0V544.5M523.10,536.9V541.8M526.10,558.8V565.4M527.30,555.5V559.0M528.50,555.6V558.5M529.70,556.3V557.1M530.30,551.8V556.5M530.90,548.1V551.8M532.70,551.8V553.8M533.30,544.2V551.8M534.50,547.1V549.1M535.10,546.0V547.1M536.30,543.9V546.5M538.10,543.2V548.2M538.70,540.0V543.2M540.50,540.8V545.7M542.30,553.0V553.8M543.50,554.1V556.6M545.30,573.3V574.1M546.50,576.6V577.4M547.70,582.6V584.6M548.30,580.2V582.6M549.50,587.2V588.0M550.10,586.4V587.2M550.70,577.6V586.8M552.50,576.6V584.0M554.30,581.6V583.9M554.90,574.5V581.6M555.50,547.5V574.5M556.10,535.2V547.5M556.70,534.4V535.2M557.90,534.8V535.6M558.50,530.4V535.2M559.10,529.0V530.4M559.70,523.6V529.0M561.50,531.6V540.0M563.90,533.2V538.1M565.10,535.5V536.7M566.30,533.0V544.5M568.10,535.2V538.2M568.70,530.7V535.2M569.30,528.5V530.7M569.90,515.5V528.5M571.10,512.1V515.7M572.90,506.0V522.0M574.10,505.7V513.0M575.30,512.8V513.8M575.90,505.5V512.8M577.10,505.7V513.6M581.30,521.9V523.8M582.50,520.3V529.5M583.10,519.1V520.3M583.70,518.0V519.1M584.30,517.2V518.0M584.90,515.0V517.5M586.70,515.7V520.2M587.30,513.4V515.7M589.10,512.7V514.7M590.30,512.0V515.0M591.50,514.0V514.8M592.70,517.9V518.8M596.90,529.6V533.9M597.50,527.1V529.6M598.10,522.9V527.1M598.70,510.0V522.9M599.30,501.6V510.0M599.90,497.3V501.6M600.50,490.3V497.3M601.10,484.1V490.3M602.90,487.0V497.3M604.70,483.3V493.1M605.90,486.5V487.3M607.10,485.3V490.9M608.30,492.9V495.9M609.50,493.5V495.1M610.10,487.2V493.5M611.30,487.5V492.9M612.50,486.8V491.0M613.70,486.7V487.5M614.90,487.7V488.9M615.50,481.2V487.7M617.30,485.5V489.2M617.90,480.9V485.5M619.10,481.7V482.8M620.30,482.4V485.9M622.10,470.6V486.4M622.70,468.6V470.6M623.30,462.7V468.6M623.90,459.9V462.7M625.10,460.8V465.2M626.30,451.7V464.9M628.10,460.4V462.5M628.70,459.3V460.4M629.90,458.7V460.1M632.30,464.2V466.1M634.10,476.0V481.1M635.90,478.1V481.3M637.70,479.6V485.7M638.30,476.3V479.6M640.10,472.8V486.0M641.90,471.3V475.0M643.10,473.2V480.0M643.70,469.0V473.2M647.30,497.1V513.4M649.10,507.6V509.7M650.30,505.8V511.7M650.90,503.5V505.8M651.50,501.3V503.5M652.10,497.6V501.3M653.30,476.8V499.4M653.90,467.8V476.8M654.50,453.6V467.8M655.10,444.2V453.6M655.70,439.1V444.2M657.50,446.3V447.1M658.70,445.7V449.3M659.30,443.9V445.7M661.10,447.0V450.4M661.70,446.2V447.0M664.10,458.0V462.1M666.50,472.6V476.1M668.90,480.9V485.7M669.50,469.7V480.9M670.70,469.1V473.5M671.30,468.1V469.1M671.90,464.2V468.1M672.50,463.2V464.2M674.30,464.9V469.6M674.90,463.2V464.9M675.50,461.0V463.2M676.10,457.4V461.0M677.90,460.6V462.8M679.10,457.0V463.7M679.70,455.2V457.0M680.30,449.7V455.2M681.50,450.6V457.4M682.70,455.6V462.5M683.90,454.3V458.4M685.10,455.7V457.9M686.30,453.6V459.8M686.90,445.5V453.6M687.50,439.8V445.5M688.70,439.6V443.7M689.30,434.8V439.6M690.50,432.7V438.1M691.10,431.1V432.7M691.70,426.0V431.1M692.30,423.4V426.0M693.50,420.9V424.1M695.30,423.0V429.6M697.10,432.4V434.8M698.30,430.1V436.2M699.50,425.2V430.4M700.70,422.1V425.9M703.70,425.7V429.9M704.30,419.5V425.7M705.50,416.3V421.4M706.70,417.5V419.9M707.30,410.9V417.5M707.90,403.8V410.9M709.70,408.2V410.4M712.10,415.3V416.5M712.70,411.6V415.3M713.30,410.8V411.6M715.70,415.1V417.8M716.30,412.4V415.1M719.30,409.5V416.3M720.50,419.0V419.8M721.10,417.2V419.3M722.30,418.5V420.0M722.90,416.7V418.5M723.50,410.3V416.7M725.30,414.1V416.9M725.90,408.1V414.1M727.70,410.0V414.8M728.30,405.6V410.0M728.90,397.6V405.6M729.50,391.2V397.6M730.70,388.3V391.7M732.50,390.9V400.2M733.10,388.6V390.9M733.70,382.0V388.6M735.50,383.9V389.7M736.70,377.3V385.0M737.90,381.9V386.5M739.70,381.6V387.6M740.90,379.1V383.9M741.50,375.3V379.1M742.10,372.8V375.3M742.70,368.5V372.8M743.90,370.1V373.7M744.50,364.5V370.1M745.70,367.4V371.9M746.30,365.7V367.4M747.50,368.5V376.2M748.70,375.7V378.1M749.90,378.4V379.2M751.10,377.0V380.4M752.30,375.5V377.2M753.50,372.0V377.8M755.30,371.6V377.5M756.50,369.6V373.1M758.30,369.4V371.8M758.90,367.3V369.4M761.90,377.4V382.0M763.10,385.4V391.8M763.70,382.5V385.4M766.10,380.5V385.7M767.30,374.6V381.5M768.50,374.9V378.4M769.10,371.2V374.9M770.90,368.6V373.8M771.50,358.8V368.6M772.70,353.5V363.4M773.30,351.1V353.5M773.90,345.7V351.1M775.10,344.1V345.9M775.70,343.3V344.1M776.30,342.5V343.3M777.50,342.7V343.5M778.70,344.0V348.6M780.50,344.2V346.3M781.70,341.3V345.8M783.50,344.8V347.9M784.70,342.5V351.0M785.90,346.3V347.1M786.50,343.7V346.7M788.30,347.6V349.9M790.10,350.0V353.5M790.70,344.0V350.0M792.50,343.6V349.2M793.10,338.0V343.6M793.70,332.6V338.0M795.50,329.9V340.2M796.10,325.9V329.9M797.30,330.1V334.5M798.50,329.4V330.2M799.10,326.1V329.4M800.30,327.9V328.7M800.90,324.1V328.2M801.50,318.7V324.1M802.70,315.9V322.1M803.90,308.7V316.2M806.30,322.6V325.5M807.50,322.0V324.8M809.90,325.7V330.0M815.30,370.8V375.9M815.90,357.6V370.8M816.50,350.6V357.6M817.10,343.0V350.6M817.70,342.2V343.0M818.90,342.6V344.5M820.10,340.9V346.5M821.90,347.8V350.6M823.10,337.5V350.2M823.70,335.7V337.5M825.50,339.0V339.8M826.10,329.3V339.3M826.70,326.2V329.3M827.30,324.3V326.2M827.90,322.9V324.3M829.10,321.3V326.1M830.30,322.9V327.1M830.90,318.6V322.9M832.10,321.6V322.4M833.90,322.8V326.5M835.10,325.8V327.7M835.70,319.9V325.8M836.30,317.5V319.9M836.90,315.4V317.5M837.50,309.0V315.4M838.10,308.0V309.0M839.30,310.8V314.9M839.90,309.0V310.8M841.10,306.4V312.8M842.30,307.3V311.9M843.50,302.7V309.1M845.30,303.1V308.5M845.90,297.8V303.1M847.10,295.0V305.6M848.30,290.6V299.9M848.90,285.0V290.6M850.10,295.4V299.8M851.90,302.6V307.8M853.10,308.0V310.3M854.30,310.0V312.1M854.90,305.7V310.0M856.70,303.7V311.3M857.30,302.6V303.7M857.90,294.9V302.6M858.50,292.5V294.9M861.50,307.0V308.3M862.10,305.6V307.0M862.70,302.7V305.6M863.30,297.2V302.7M865.10,299.1V305.2M865.70,296.5V299.1M867.50,304.7V305.5M868.10,303.2V304.9M872.30,342.1V345.1M872.90,331.5V342.1M874.70,331.2V332.5M875.30,326.5V331.2M876.50,323.3V333.1M877.70,328.8V330.0M878.30,324.0V328.8M878.90,321.8V324.0M880.70,322.8V324.5M883.70,346.2V347.0M886.10,350.1V362.8M887.30,358.5V360.9M891.50,386.8V391.9M892.10,383.1V386.8M892.70,373.7V383.1M893.30,371.7V373.7M893.90,365.9V371.7M894.50,365.1V365.9M895.10,363.4V365.3M895.70,359.0V363.4M897.50,372.9V376.7M899.30,364.0V374.6M899.90,356.3V364.0M900.50,347.0V356.3M901.10,345.1V347.0M901.70,335.9V345.1M902.30,331.9V335.9M904.10,335.7V336.8M905.90,338.7V339.7M907.10,336.0V339.0M908.30,334.6V336.4M908.90,333.8V334.6M911.30,341.4V344.0M911.90,334.1V341.4M912.50,326.9V334.1M913.10,322.9V326.9M913.70,313.1V322.9M914.90,315.2V316.5M915.50,301.8V315.2M917.90,307.8V319.3M919.10,309.7V310.5M919.70,304.3V310.1M920.90,306.6V310.4M921.50,300.7V306.6M922.10,297.7V300.7M923.90,302.6V306.6M924.50,281.2V302.6M925.10,279.9V281.2M926.30,286.2V288.6M926.90,284.7V286.2M928.10,287.6V289.1M929.30,286.6V288.4M929.90,280.2V286.6M931.10,277.7V286.7M932.30,270.8V277.7M932.90,263.2V270.8M934.10,263.1V263.9M934.70,257.9V263.7M936.50,259.9V266.5M938.30,267.7V269.4M938.90,258.9V267.7M940.10,262.6V265.1M941.30,260.2V265.4M941.90,259.4V260.2M942.50,257.6V259.9M943.70,260.6V261.4M944.30,259.9V261.1M945.50,260.9V261.7M946.70,260.8V266.2M947.30,259.2V260.8M949.10,262.1V268.7M950.30,263.1V264.4M953.30,317.6V323.2M953.90,310.8V317.6M954.50,297.6V310.8M955.10,295.3V297.6M955.70,294.5V295.3M957.50,296.3V299.6M958.70,297.1V298.8M959.30,290.5V297.1M959.90,285.0V290.5M961.10,271.2V285.3M963.50,276.8V281.7M965.30,295.5V296.5M965.90,279.2V295.5M967.10,284.8V289.5M968.30,280.3V286.1M968.90,277.2V280.3M969.50,276.4V277.2M970.70,277.5V281.3M971.30,271.9V277.5M978.50,311.0V317.5M979.10,310.2V311.0M980.90,312.4V317.8M981.50,301.8V312.4M982.10,294.8V301.8M982.70,293.2V294.8M983.30,290.0V293.2M983.90,289.2V290.0M985.10,283.7V291.0M985.70,282.7V283.7M986.30,281.9V282.7M986.90,281.5V282.6M987.50,277.2V281.5M988.10,276.1V277.2M988.70,273.9V276.1M990.50,273.8V277.5M991.10,263.7V273.8M992.30,277.3V278.2M992.90,276.0V277.3M994.10,271.5V279.6M997.10,285.0V294.2M998.90,286.0V292.2M1000.10,288.9V296.9M1001.30,288.5V293.2M1002.50,293.5V294.3M1004.30,294.8V306.7M1004.90,285.4V294.8M1005.50,274.1V285.4M1006.70,277.9V278.7M1007.30,274.2V278.2M1009.10,277.5V279.3M1009.70,274.7V277.5M1010.30,273.9V274.7M1010.90,269.9V274.0M1012.70,279.9V281.7M1013.30,272.3V279.9M1013.90,268.6V272.3M1015.10,268.7V269.7M1015.70,262.4V268.7M1016.30,261.6V262.4M1018.10,265.7V267.6M1019.30,261.1V269.9M1021.10,261.5V268.6M1022.30,256.5V268.8M1022.90,254.7V256.5M1024.10,259.6V266.8M1024.70,254.1V259.6M1025.90,255.8V256.7M1026.50,247.7V255.8M1028.30,250.8V256.4M1029.50,249.5V251.5M1030.70,249.9V253.8M1031.90,248.8V250.4M1037.30,277.8V281.2M1037.90,276.8V277.8M1039.70,271.6V279.3M1040.30,269.4V271.6M1040.90,264.2V269.4M1042.70,266.2V268.0M1043.30,265.4V266.2M1043.90,254.6V265.7M1045.10,255.0V261.9M1046.30,251.3V261.1M1047.50,258.0V260.1M1048.70,262.9V266.3M1049.90,259.3V266.2M1051.10,257.8V267.0M1052.30,256.0V265.2M1052.90,253.5V256.0M1055.30,272.6V273.9M1057.10,273.9V277.1M1058.30,267.7V277.5M1059.50,273.8V278.7M1060.70,275.8V280.7M1063.70,282.9V285.1M1066.10,280.5V290.0M1068.50,289.3V291.4M1069.10,287.4V289.3M1069.70,285.9V287.4M1070.30,280.6V285.9M1071.50,284.7V289.4M1072.10,283.9V284.7M1073.30,283.6V294.8M1074.50,291.2V294.5M1075.10,286.1V291.2M1075.70,285.2V286.1M1076.30,276.8V285.2M1076.90,275.7V276.8M1077.50,268.7V275.7M1078.10,266.5V268.7M1079.30,268.5V279.9M1080.50,269.6V273.5M1081.70,264.8V271.9M1082.90,255.8V265.4M1084.10,265.2V269.1M1084.70,257.6V265.2M1085.90,260.1V262.9M1087.10,259.9V268.9M1088.30,262.1V262.9M1089.50,261.2V263.4M1090.10,260.3V261.2M1091.90,259.0V267.1M1094.30,263.9V270.6M1094.90,259.0V263.9M1097.30,292.4V301.6M1097.90,289.2V292.4M1098.50,270.1V289.2M1099.10,266.4V270.1M1099.70,260.8V266.4M1100.30,256.6V260.8M1102.10,265.7V266.5M1102.70,262.0V266.2M1108.10,290.0V294.3M1109.90,289.8V290.8M1111.10,283.0V291.6M1112.90,282.4V285.2M1114.10,281.3V284.5M1115.30,281.5V286.8M1115.90,277.9V281.5M1117.70,276.4V287.1M1120.70,314.8V321.2M1121.30,309.4V314.8M1124.30,327.4V338.9M1125.50,309.4V330.6M1126.10,300.0V309.4M1127.30,291.3V300.4M1130.30,295.4V300.9M1131.50,295.9V302.3M1132.10,295.1V295.9M1133.30,302.6V307.0M1133.90,297.9V302.6M1135.10,305.9V306.8M1136.30,302.5V311.4M1136.90,289.0V302.5M1137.50,278.3V289.0M1138.10,272.6V278.3M1138.70,263.6V272.6M1139.90,260.7V266.0M1141.70,262.2V267.8M1142.90,259.1V262.8M1143.50,253.9V259.1M1145.90,256.8V260.1M1147.10,250.0V261.5M1147.70,231.4V250.0M1148.30,223.5V231.4M1148.90,218.6V223.5M1150.10,221.3V225.5M1150.70,220.5V221.3M1151.30,219.4V220.7M1151.90,211.3V219.4M1154.30,212.7V219.3M1155.50,209.2V215.9M1156.10,208.4V209.2M1157.90,210.3V217.5M1159.70,219.8V221.3M1160.30,218.7V219.8M1161.50,218.7V221.0M1162.10,213.6V218.7M1163.30,213.3V218.8M1165.70,219.0V223.0M1166.30,214.8V219.0M1166.90,210.0V214.8M1167.50,209.2V210.0M1168.70,212.3V217.5M1169.30,206.8V212.3M1170.50,215.5V218.1M1171.70,216.6V219.0M1172.30,208.4V216.6M1175.30,218.0V224.8M1177.70,220.2V222.6M1178.90,216.5V220.4M1180.10,226.8V227.6M1181.30,227.4V231.7M1182.50,224.9V229.7M1183.10,223.4V224.9M1184.30,226.0V226.8M1184.90,224.9V226.4M1185.50,221.3V224.9M1186.10,219.5V221.3M1187.90,221.8V227.4M1188.50,221.0V221.8M1189.70,226.0V227.5M1190.30,208.7V226.0M1190.90,207.1V208.7M1191.50,191.4V207.1M1193.90,191.2V201.5M1195.70,201.5V202.3M1196.30,195.8V201.9M1197.50,193.1V196.6M1198.70,184.6V195.5M1199.30,175.4V184.6M1199.90,171.4V175.4M1200.50,170.6V171.4M1201.10,164.0V171.2M1202.30,169.8V170.9M1202.90,167.1V169.8M1203.50,164.2V167.1M1204.70,159.5V164.3M1205.90,156.9V160.0M1206.50,156.1V156.9M1207.10,152.4V156.3M1210.10,174.4V175.2M1211.30,174.9V175.7M1212.50,173.7V178.8M1213.10,171.5V173.7M1213.70,168.2V171.5M1215.50,163.1V172.9M1216.10,162.3V163.1M1217.30,163.0V168.1M1217.90,154.9V163.0M1219.10,151.7V161.4M1220.30,144.6V156.8M1222.10,151.9V154.7M1226.30,167.6V170.3M1226.90,162.0V167.6M1227.50,155.2V162.0M1228.70,155.0V155.8M1230.50,156.0V158.7M1232.90,169.8V172.7M1234.70,168.1V174.5M1235.30,167.3V168.1M1236.50,162.1V168.1M1237.70,160.2V172.2M1238.90,159.9V162.7M1240.10,160.1V167.4M1240.70,159.3V160.1M1241.90,161.6V168.6M1242.50,158.2V161.6M1243.70,159.1V159.9M1244.30,155.2V159.6M1245.50,155.0V156.1M1246.70,156.3V157.2M1247.30,155.5V156.3M1247.90,151.1V155.5M1249.10,148.7V153.3M1250.30,149.5V152.5M1250.90,146.7V149.5M1252.10,143.1V152.7M1254.50,144.6V148.4M1255.70,142.5V144.8M1256.90,146.7V149.7M1258.10,152.4V157.3M1258.70,145.8V152.4M1259.90,150.4V154.6M1261.10,146.4V153.9M1262.30,153.7V154.5M1262.90,149.2V154.4M1263.50,147.8V149.2M1267.10,162.5V166.7M1267.70,159.9V162.5M1268.90,155.7V160.2M1269.50,152.8V155.7M1271.90,177.5V178.3M1272.50,174.0V177.6M1273.10,172.4V174.0M1273.70,170.0V172.4M1274.90,168.3V173.8M1276.10,169.1V173.9M1277.30,167.0V174.5M1278.50,166.5V168.2M1279.10,161.6V166.5M1279.70,160.5V161.6M1280.30,154.7V160.5M1285.10,168.0V173.2M1286.90,169.8V175.6M1288.10,170.2V171.7M1288.70,163.4V170.2M1290.50,157.4V171.6M1291.70,163.6V171.1M1294.10,196.7V197.7M1294.70,190.6V196.7M1295.90,189.1V191.0M1296.50,188.3V189.1M1297.70,188.3V191.9M1298.30,177.8V188.3M1300.10,180.3V183.8M1301.30,173.9V183.7M1303.10,210.9V211.7M1303.70,201.1V211.2M1304.30,198.3V201.1M1305.50,197.4V199.4M1306.10,187.9V197.4M1307.30,191.5V194.1M1308.50,179.7V192.8M1309.70,183.1V189.3M1313.90,204.5V209.1M1315.10,203.9V206.1M1315.70,201.3V203.9M1317.50,202.9V210.0M1318.70,201.9V203.8M1319.90,202.7V206.0M1320.50,198.9V202.7M1322.90,216.8V218.3M1323.50,203.5V216.8M1324.10,202.0V203.5M1324.70,187.0V202.0M1325.30,185.8V187.0M1325.90,183.2V185.8M1327.10,184.9V187.9M1327.70,181.2V184.9M1328.90,183.6V188.2M1330.10,193.0V193.8M1331.90,192.6V200.3M1333.10,203.0V210.9M1333.70,199.6V203.0M1334.30,198.1V199.6M1334.90,175.3V198.1M1337.30,175.1V182.5M1339.10,178.9V186.3M1340.30,178.0V183.0M1341.50,181.4V182.2M1345.70,217.7V218.5M1348.10,233.8V239.1M1355.90,291.1V315.7M1356.50,280.4V291.1M1357.10,276.1V280.4M1358.30,275.8V283.7M1358.90,272.9V275.8M1359.50,269.5V272.9M1360.10,266.7V269.5M1360.70,255.4V266.7M1363.10,253.3V259.4M1367.90,289.9V291.2M1369.10,291.4V298.6M1369.70,280.5V291.4M1370.30,278.7V280.5M1370.90,274.3V278.7M1371.50,264.5V274.3M1372.10,262.2V264.5M1372.70,261.4V262.2M1373.30,246.9V262.2M1375.10,247.9V249.7M1375.70,241.6V247.9M1377.50,242.9V250.9M1378.10,241.1V242.9M1378.70,240.3V241.1M1379.30,235.9V240.6M1380.50,236.1V239.8M1381.10,235.3V236.1M1382.30,228.6V235.8M1382.90,226.7V228.6M1383.50,224.9V226.7M1384.70,213.9V227.5M1385.90,215.8V217.2M1387.70,220.7V222.5M1388.90,222.7V223.8M1389.50,221.9V222.7M1393.70,238.6V243.6M1395.50,230.5V242.7M1396.10,227.4V230.5M1396.70,223.1V227.4M1397.30,216.4V223.1M1398.50,208.6V220.8M1399.70,204.7V209.6M1400.30,194.8V204.7M1405.70,253.3V263.5M1406.30,252.0V253.3M1406.90,244.1V252.0M1407.50,241.3V244.1M1408.70,241.8V250.5M1409.90,249.3V252.7M1413.50,282.3V286.8M1417.70,324.4V331.8M1418.30,319.5V324.4M1418.90,317.3V319.5M1419.50,313.5V317.3M1420.10,307.1V313.5M1421.30,301.2V311.1M1423.10,298.7V311.4M1424.30,298.9V300.9M1427.90,330.9V342.5M1428.50,330.1V330.9M1429.10,328.0V330.6M1429.70,326.1V328.0M1430.30,323.5V326.1M1430.90,311.4V323.5M1432.10,309.0V321.2M1432.70,308.2V309.0M1433.30,307.0V308.9M1434.50,309.3V312.6M1435.70,316.2V317.6M1436.90,318.3V320.8M1439.30,347.3V348.1M1439.90,346.6V347.6M1441.10,335.5V348.0M1443.50,366.6V369.9M1444.10,354.5V366.6M1444.70,352.7V354.5M1445.30,343.8V352.7M1445.90,332.1V343.8M1448.30,354.7V368.4M1448.90,334.9V354.7M1450.10,329.9V336.8M1450.70,324.1V329.9M1452.50,336.0V337.5M1453.70,334.1V345.6M1454.30,330.4V334.1M1457.90,403.7V409.2M1458.50,392.0V403.7M1459.10,385.6V392.0M1459.70,382.2V385.6M1460.30,380.9V382.2M1460.90,379.0V380.9M1462.10,375.2V380.2M1463.90,377.1V378.2M1465.10,371.0V379.4" stroke="#18c47c" stroke-width="1.2" fill="none"/>
<path d="M0.50,661.7V694.3M1.10,694.3V710.5M1.70,710.5V712.8M2.30,712.8V717.6M2.90,717.6V724.9M3.50,724.9V725.7M4.10,725.1V725.9M5.90,713.8V719.7M7.10,718.0V720.9M9.50,713.0V728.5M10.70,724.0V736.0M11.30,736.0V748.4M11.90,748.4V750.8M17.30,709.4V716.0M18.50,706.4V711.5M19.10,711.5V713.2M19.70,713.2V724.7M20.30,724.7V728.2M20.90,728.2V746.7M22.70,720.2V722.7M23.30,722.7V726.7M23.90,726.7V736.1M25.70,689.7V695.3M26.30,695.3V698.4M26.90,698.4V699.2M27.50,698.5V707.9M28.70,707.0V720.3M32.30,691.7V702.4M32.90,702.4V708.7M33.50,708.7V716.1M35.90,684.8V691.7M36.50,691.7V692.5M37.10,692.1V698.3M38.30,693.6V699.2M38.90,699.2V701.4M39.50,701.4V703.0M40.10,703.0V706.1M40.70,706.1V709.3M41.30,709.3V710.1M41.90,709.9V711.8M42.50,711.8V717.1M43.10,717.1V723.6M43.70,723.6V728.3M47.30,706.5V709.0M47.90,709.0V712.9M49.70,705.0V714.5M52.70,685.6V691.6M56.30,654.6V657.3M56.90,657.3V659.9M57.50,659.9V663.3M59.30,661.1V665.2M62.90,631.9V632.7M63.50,632.3V633.6M64.70,631.9V632.8M65.90,621.2V622.0M66.50,622.0V623.1M68.30,610.1V620.0M68.90,620.0V624.1M70.70,610.4V611.2M71.30,611.0V612.0M71.90,612.0V618.7M73.70,611.9V617.7M74.90,612.7V620.3M76.10,612.1V613.6M76.70,613.6V618.5M77.30,618.5V621.7M79.70,612.6V617.3M85.70,566.3V567.1M86.90,561.6V562.4M88.10,557.5V569.7M88.70,569.7V571.0M89.90,567.1V567.9M91.10,567.0V573.7M91.70,573.7V575.6M92.30,575.6V584.3M94.70,554.8V563.5M96.50,554.4V562.4M97.70,558.0V577.6M100.70,564.7V572.4M101.90,568.0V576.1M103.10,567.1V572.0M103.70,572.0V580.1M104.30,580.1V582.2M106.10,568.0V572.9M110.30,549.5V553.6M111.50,549.0V551.2M113.90,535.7V538.1M115.70,531.1V539.1M116.30,539.1V541.1M117.50,538.4V539.2M119.30,526.9V527.7M121.70,515.4V520.1M122.30,520.1V529.3M122.90,529.3V533.9M123.50,533.9V535.7M124.10,535.7V546.2M125.30,545.4V550.4M125.90,550.4V556.3M127.70,535.5V540.2M128.90,530.4V532.6M131.90,514.0V524.4M133.10,520.1V520.9M133.70,520.3V522.0M134.30,522.0V526.8M134.90,526.8V527.8M135.50,527.8V528.8M136.70,520.0V524.3M137.90,518.6V525.9M138.50,525.9V527.6M139.70,521.9V524.6M140.90,523.7V525.6M142.70,517.5V518.3M143.30,517.9V527.9M145.10,523.8V526.2M145.70,526.2V527.0M149.30,494.9V500.2M151.70,491.3V492.1M152.30,491.5V492.3M153.50,487.4V489.6M157.10,480.5V486.3M158.30,473.8V480.1M159.50,477.9V485.5M160.10,485.5V495.8M160.70,495.8V507.1M161.30,507.1V511.1M161.90,511.1V518.1M162.50,518.1V522.6M163.10,522.6V523.4M163.70,522.9V525.2M167.30,507.8V513.3M169.10,502.2V504.9M170.30,494.2V495.9M172.70,478.2V479.2M173.30,479.2V486.6M173.90,486.6V488.9M175.10,481.1V490.0M176.30,485.9V486.9M176.90,486.9V487.7M177.50,487.3V488.6M178.70,481.6V482.8M179.90,480.2V484.6M180.50,484.6V488.5M181.10,488.5V489.8M182.90,475.7V481.1M184.10,480.0V490.9M185.90,482.2V487.7M187.70,478.0V481.5M188.30,481.5V482.3M188.90,482.1V482.9M189.50,482.7V483.5M190.10,482.7V483.5M190.70,483.2V492.3M191.30,492.3V496.7M191.90,496.7V502.9M192.50,502.9V517.1M194.90,501.9V505.4M195.50,505.4V507.4M196.70,498.6V505.5M197.90,498.9V504.9M198.50,504.9V507.2M199.10,507.2V512.7M199.70,512.7V520.3M200.90,518.9V530.0M202.10,526.0V529.6M202.70,529.6V537.3M203.90,530.7V532.8M204.50,532.8V536.9M205.10,536.9V537.7M206.30,526.8V534.4M206.90,534.4V538.9M208.70,532.8V533.6M209.30,532.9V535.3M210.50,533.7V538.2M214.10,512.1V515.7M215.30,503.0V503.8M215.90,503.0V503.8M217.70,499.3V501.3M218.30,501.3V509.2M219.50,498.9V499.9M220.10,499.9V504.4M220.70,504.4V505.2M221.30,504.6V506.2M221.90,506.2V508.0M223.10,499.0V503.8M223.70,503.8V508.1M224.30,508.1V533.7M224.90,533.7V540.9M227.90,529.8V532.2M228.50,532.2V534.5M230.90,530.4V536.2M235.70,489.4V492.5M236.90,492.1V498.6M238.10,495.5V498.6M238.70,498.6V501.7M239.30,501.7V506.4M240.50,500.2V501.0M241.10,501.0V508.5M242.30,503.1V509.9M244.70,490.4V494.3M246.50,478.9V488.9M247.70,483.8V493.3M249.50,479.1V480.4M250.10,480.4V485.8M251.30,480.2V482.0M251.90,482.0V482.8M253.10,477.5V481.3M254.30,479.2V480.0M254.90,479.3V490.7M255.50,490.7V494.0M256.10,494.0V495.9M257.90,488.2V495.9M259.70,486.2V490.8M260.90,487.3V494.1M261.50,494.1V496.3M262.10,496.3V498.6M262.70,498.6V499.8M263.30,499.8V501.2M264.50,498.2V500.6M267.50,495.6V497.1M268.70,480.9V490.0M269.90,486.6V494.0M271.70,477.6V483.5M272.90,479.0V483.4M274.10,475.4V477.8M275.90,476.1V482.1M276.50,482.1V494.1M277.10,494.1V505.1M279.50,488.4V495.1M280.10,495.1V498.8M281.30,498.6V501.6M281.90,501.6V508.9M283.10,502.3V505.9M284.30,502.8V508.6M284.90,508.6V510.0M285.50,510.0V510.8M286.10,510.8V511.6M286.70,511.0V516.6M288.50,503.6V511.4M290.30,499.8V508.3M291.50,504.7V514.8M292.70,505.8V508.8M293.90,504.2V509.1M295.10,504.1V506.4M296.90,502.4V506.8M297.50,506.8V508.7M298.10,508.7V510.6M298.70,510.6V512.1M299.30,512.1V516.4M299.90,516.4V523.9M300.50,523.9V533.7M301.70,526.1V527.3M302.30,527.3V528.6M303.50,528.3V529.8M304.10,529.8V533.5M304.70,533.5V540.3M307.10,527.9V533.3M307.70,533.3V539.5M308.30,539.5V550.6M308.90,550.6V567.6M309.50,567.6V588.4M310.10,588.4V601.5M313.70,572.8V578.6M314.90,565.2V566.0M315.50,566.0V569.9M316.70,562.7V566.8M319.70,552.2V559.6M320.30,559.6V576.8M320.90,576.8V577.6M321.50,577.3V583.1M322.10,583.1V590.3M322.70,590.3V591.1M325.10,583.2V585.7M326.90,577.8V585.5M327.50,585.5V588.1M328.10,588.1V595.9M329.30,595.0V597.5M329.90,597.5V603.8M333.50,565.2V566.5M334.10,566.5V567.3M335.30,555.6V565.1M337.10,557.3V565.9M340.10,526.5V527.9M340.70,527.9V532.4M341.30,532.4V533.2M342.50,528.9V538.7M343.10,538.7V539.5M344.30,535.0V544.8M346.10,536.0V537.2M346.70,537.2V539.1M347.30,539.1V542.7M347.90,542.7V549.3M348.50,549.3V553.7M349.10,553.7V555.2M349.70,555.2V562.7M350.30,562.7V564.1M350.90,564.1V576.8M351.50,576.8V580.8M352.10,580.8V592.6M352.70,592.6V597.0M353.30,597.0V606.8M353.90,606.8V617.8M354.50,617.8V622.7M355.10,622.7V645.4M355.70,645.4V646.6M356.30,646.6V648.2M357.50,643.7V649.6M359.90,632.5V633.3M360.50,633.2V645.6M361.10,645.6V650.0M361.70,650.0V656.1M362.30,656.1V664.4M365.30,616.7V622.8M367.10,612.5V618.9M367.70,618.9V619.7M368.30,619.6V620.4M368.90,620.4V626.1M370.10,622.8V626.3M370.70,626.3V633.3M371.30,633.3V641.4M371.90,641.4V653.5M372.50,653.5V658.6M373.70,656.7V665.3M374.30,665.3V669.6M374.90,669.6V680.7M375.50,680.7V684.1M376.10,684.1V689.3M377.90,674.7V680.6M379.10,677.4V679.0M379.70,679.0V679.8M380.30,679.2V690.7M380.90,690.7V694.6M384.50,636.0V641.7M385.10,641.7V656.8M385.70,656.8V671.1M387.50,657.1V659.0M388.10,659.0V660.5M388.70,660.5V661.9M398.30,592.5V598.9M398.90,598.9V602.8M400.10,598.9V608.4M401.30,604.4V608.4M403.10,606.1V620.7M404.30,612.4V622.7M405.50,620.6V626.5M406.70,625.7V630.0M407.30,630.0V637.7M410.90,609.8V611.1M412.10,602.4V603.8M413.30,603.3V609.6M413.90,609.6V610.4M415.10,608.4V618.4M416.30,615.5V625.3M416.90,625.3V631.3M417.50,631.3V632.1M418.70,630.7V640.1M420.50,637.8V644.0M421.10,644.0V653.3M422.30,650.3V654.9M422.90,654.9V658.8M423.50,658.8V660.1M424.10,660.1V670.2M424.70,670.2V679.2M425.30,679.2V684.7M425.90,684.7V689.4M427.10,672.5V674.3M430.70,637.9V641.1M431.30,641.1V645.9M432.50,634.1V639.6M433.10,639.6V640.4M433.70,640.3V647.2M434.30,647.2V652.7M437.90,587.0V591.7M439.10,585.0V587.5M440.30,578.8V585.6M441.50,575.0V583.2M442.70,572.7V583.4M444.50,572.2V576.4M445.10,576.4V578.0M446.30,572.8V574.1M446.90,574.1V576.3M448.70,569.9V583.9M449.30,583.9V591.7M449.90,591.7V596.0M450.50,596.0V600.3M451.70,596.2V609.3M452.90,605.0V605.8M453.50,605.1V609.6M455.90,596.0V598.0M461.30,551.2V555.3M463.10,546.4V548.0M463.70,548.0V548.8M464.90,547.7V549.2M466.10,541.4V546.2M467.90,536.5V542.4M468.50,542.4V553.6M470.90,548.2V557.4M472.10,554.8V555.6M472.70,554.9V560.0M475.70,537.8V541.3M476.90,540.4V552.5M478.70,539.8V546.0M480.50,537.7V546.5M482.30,537.3V543.1M482.90,543.1V544.7M484.10,543.0V547.8M484.70,547.8V549.5M486.50,541.8V542.6M487.10,541.8V551.0M487.70,551.0V556.9M488.30,556.9V557.7M488.90,557.3V559.9M489.50,559.9V562.7M490.70,556.5V558.3M491.90,547.4V553.4M494.90,539.9V542.5M495.50,542.5V546.0M496.70,539.8V542.5M497.90,537.8V540.6M499.10,535.7V540.1M500.30,537.5V538.9M502.10,532.7V535.2M502.70,535.2V539.6M503.30,539.6V541.0M504.50,533.9V539.0M505.10,539.0V540.1M506.90,534.4V542.1M508.10,538.8V547.5M509.30,547.4V548.2M510.50,538.1V549.9M511.10,549.9V550.9M512.30,544.8V553.4M515.30,547.5V548.8M515.90,548.8V560.5M520.10,542.4V547.6M521.30,542.1V544.5M522.50,536.0V541.8M523.70,536.9V537.8M524.30,537.8V545.4M524.90,545.4V558.9M525.50,558.9V565.4M526.70,558.8V559.6M527.90,555.5V558.5M529.10,555.6V557.1M531.50,548.1V553.3M532.10,553.3V554.1M533.90,544.2V549.1M535.70,546.0V546.8M536.90,543.9V545.8M537.50,545.8V548.2M539.30,540.0V544.6M539.90,544.6V545.7M541.10,540.8V547.1M541.70,547.1V553.8M542.90,553.5V556.6M544.10,554.1V565.2M544.70,565.2V574.1M545.90,573.3V577.4M547.10,576.7V584.6M548.90,580.2V588.0M551.30,577.6V582.4M551.90,582.4V584.0M553.10,576.6V583.1M553.70,583.1V583.9M557.30,535.1V535.9M560.30,523.6V533.5M560.90,533.5V540.0M562.10,531.6V532.7M562.70,532.7V537.9M563.30,537.9V538.7M564.50,533.2V536.7M565.70,535.5V544.5M566.90,533.0V536.6M567.50,536.6V538.2M570.50,515.5V516.3M571.70,512.1V512.9M572.30,512.8V522.0M573.50,506.0V513.0M574.70,505.7V513.8M576.50,505.5V513.6M577.70,505.7V511.6M578.30,511.6V512.4M578.90,512.2V513.2M579.50,513.2V517.9M580.10,517.9V521.5M580.70,521.5V523.8M581.90,521.9V529.5M585.50,515.0V515.8M586.10,515.1V520.2M587.90,513.4V514.2M588.50,513.7V514.7M589.70,512.7V515.0M590.90,512.0V514.8M592.10,514.7V518.8M593.30,517.9V520.9M593.90,520.9V523.0M594.50,523.0V524.3M595.10,524.3V525.5M595.70,525.5V526.3M596.30,526.2V533.9M601.70,484.1V495.5M602.30,495.5V497.3M603.50,487.0V488.8M604.10,488.8V493.1M605.30,483.3V487.3M606.50,486.8V490.9M607.70,485.3V495.9M608.90,492.9V495.1M610.70,487.2V492.9M611.90,487.5V491.0M613.10,486.8V487.6M614.30,486.7V488.9M616.10,481.2V484.3M616.70,484.3V489.2M618.50,480.9V482.8M619.70,481.7V485.9M620.90,482.4V483.3M621.50,483.3V486.4M624.50,459.9V465.2M625.70,460.8V464.9M626.90,451.7V454.9M627.50,454.9V462.5M629.30,459.3V460.1M630.50,458.7V460.1M631.10,460.1V461.8M631.70,461.8V466.1M632.90,464.2V471.1M633.50,471.1V481.1M634.70,476.0V477.0M635.30,477.0V481.3M636.50,478.1V478.9M637.10,478.2V485.7M638.90,476.3V481.3M639.50,481.3V486.0M640.70,472.8V473.6M641.30,473.3V475.0M642.50,471.3V480.0M644.30,469.0V478.7M644.90,478.7V484.7M645.50,484.7V495.9M646.10,495.9V505.4M646.70,505.4V513.4M647.90,497.1V506.5M648.50,506.5V509.7M649.70,507.6V511.7M652.70,497.6V499.4M656.30,439.1V445.4M656.90,445.4V447.1M658.10,447.0V449.3M659.90,443.9V447.1M660.50,447.1V450.4M662.30,447.0V450.8M662.90,450.8V460.2M663.50,460.2V462.1M664.70,458.0V465.0M665.30,465.0V470.9M665.90,470.9V476.1M667.10,472.6V477.4M667.70,477.4V484.0M668.30,484.0V485.7M670.10,469.7V473.5M673.10,463.2V464.0M673.70,464.0V469.6M676.70,457.4V458.5M677.30,458.5V462.8M678.50,460.6V463.7M680.90,449.7V457.4M682.10,450.6V462.5M683.30,455.6V458.4M684.50,454.3V457.9M685.70,455.7V459.8M688.10,439.8V443.7M689.90,434.8V438.1M692.90,423.4V424.2M694.10,420.9V429.6M694.70,429.6V430.4M695.90,423.0V430.3M696.50,430.3V434.8M697.70,432.4V436.2M698.90,430.1V430.9M700.10,425.2V426.0M701.30,422.1V424.7M701.90,424.7V428.0M702.50,428.0V428.8M703.10,428.3V429.9M704.90,419.5V421.4M706.10,416.3V419.9M708.50,403.8V406.9M709.10,406.9V410.4M710.30,408.2V413.5M710.90,413.5V415.0M711.50,415.0V416.5M713.90,411.2V413.1M714.50,413.1V417.5M715.10,417.5V418.3M716.90,412.4V413.2M717.50,412.9V413.7M718.10,413.1V416.3M718.70,416.3V417.1M719.90,409.5V419.8M721.70,417.2V420.0M724.10,410.3V415.9M724.70,415.9V416.9M726.50,408.1V414.6M727.10,414.6V415.4M730.10,391.2V392.0M731.30,388.3V389.8M731.90,389.8V400.2M734.30,382.0V387.7M734.90,387.7V389.7M736.10,383.9V385.0M737.30,377.3V386.5M738.50,381.9V385.8M739.10,385.8V387.6M740.30,381.6V383.9M743.30,368.5V373.7M745.10,364.5V371.9M746.90,365.7V376.2M748.10,368.5V378.1M749.30,375.7V379.2M750.50,378.8V380.4M751.70,377.0V377.8M752.90,375.5V377.8M754.10,372.0V376.4M754.70,376.4V377.5M755.90,371.6V373.1M757.10,369.6V370.4M757.70,370.1V371.8M759.50,367.3V370.1M760.10,370.1V372.0M760.70,372.0V376.6M761.30,376.6V382.0M762.50,377.4V391.8M764.30,382.5V383.3M764.90,383.0V385.0M765.50,385.0V385.8M766.70,380.5V381.5M767.90,374.6V378.4M769.70,371.2V373.2M770.30,373.2V374.0M772.10,358.8V363.4M774.50,345.7V346.5M776.90,342.7V343.5M778.10,343.2V348.6M779.30,344.0V345.9M779.90,345.9V346.7M781.10,344.2V345.8M782.30,341.3V347.6M782.90,347.6V348.4M784.10,344.8V351.0M785.30,342.5V347.1M787.10,343.7V345.4M787.70,345.4V349.9M788.90,347.6V349.0M789.50,349.0V353.5M791.30,344.0V345.9M791.90,345.9V349.2M794.30,332.6V338.4M794.90,338.4V340.2M796.70,325.9V334.5M797.90,330.1V330.9M799.70,326.1V328.7M802.10,318.7V322.1M803.30,315.9V316.7M804.50,308.7V317.3M805.10,317.3V320.6M805.70,320.6V325.5M806.90,322.6V324.8M808.10,322.0V327.8M808.70,327.8V328.6M809.30,328.2V330.0M810.50,325.7V327.7M811.10,327.7V336.7M811.70,336.7V341.1M812.30,341.1V344.2M812.90,344.2V353.9M813.50,353.9V360.0M814.10,360.0V364.4M814.70,364.4V375.9M818.30,342.8V344.5M819.50,342.6V346.5M820.70,340.9V344.2M821.30,344.2V350.6M822.50,347.8V350.2M824.30,335.7V336.5M824.90,335.9V339.8M828.50,322.9V326.1M829.70,321.3V327.1M831.50,318.6V322.4M832.70,321.7V325.5M833.30,325.5V326.5M834.50,322.8V327.7M838.70,308.0V314.9M840.50,309.0V312.8M841.70,306.4V311.9M842.90,307.3V309.1M844.10,302.7V304.7M844.70,304.7V308.5M846.50,297.8V305.6M847.70,295.0V299.9M849.50,285.0V299.8M850.70,295.4V302.9M851.30,302.9V307.8M852.50,302.6V310.3M853.70,308.0V312.1M855.50,305.7V310.2M856.10,310.2V311.3M859.10,292.5V293.3M859.70,292.7V296.5M860.30,296.5V304.9M860.90,304.9V308.3M863.90,297.2V303.9M864.50,303.9V305.2M866.30,296.5V298.6M866.90,298.6V305.5M868.70,303.2V308.6M869.30,308.6V313.8M869.90,313.8V325.3M870.50,325.3V332.6M871.10,332.6V338.5M871.70,338.5V345.1M873.50,331.5V332.3M874.10,332.2V333.0M875.90,326.5V333.1M877.10,323.3V330.0M879.50,321.8V323.0M880.10,323.0V324.5M881.30,322.8V331.7M881.90,331.7V343.8M882.50,343.8V346.9M883.10,346.9V347.7M884.30,346.2V348.4M884.90,348.4V349.4M885.50,349.4V362.8M886.70,350.1V360.9M887.90,358.5V362.8M888.50,362.8V368.7M889.10,368.7V372.7M889.70,372.7V385.5M890.30,385.5V387.8M890.90,387.8V391.9M896.30,359.0V368.6M896.90,368.6V376.7M898.10,372.9V373.8M898.70,373.8V374.6M902.90,331.9V333.5M903.50,333.5V336.8M904.70,335.7V337.4M905.30,337.4V339.7M906.50,338.7V339.5M907.70,336.0V336.8M909.50,334.0V336.0M910.10,336.0V343.3M910.70,343.3V344.1M914.30,313.1V316.5M916.10,301.8V314.6M916.70,314.6V315.4M917.30,315.0V319.3M918.50,307.8V310.5M920.30,304.3V310.4M922.70,297.7V298.7M923.30,298.7V306.6M925.70,279.9V288.6M927.50,284.7V289.1M928.70,287.6V288.4M930.50,280.2V286.7M931.70,277.7V278.5M933.50,263.2V264.0M935.30,257.9V263.5M935.90,263.5V266.5M937.10,259.9V260.7M937.70,260.7V269.4M939.50,258.9V265.1M940.70,262.6V265.4M943.10,257.6V261.4M944.90,259.9V261.7M946.10,261.0V266.2M947.90,259.2V261.4M948.50,261.4V268.7M949.70,262.1V264.4M950.90,263.1V284.4M951.50,284.4V309.8M952.10,309.8V317.0M952.70,317.0V323.2M956.30,295.0V299.2M956.90,299.2V300.0M958.10,296.3V298.8M960.50,285.0V285.8M961.70,271.2V273.6M962.30,273.6V274.4M962.90,273.7V281.7M964.10,276.8V289.2M964.70,289.2V296.5M966.50,279.2V289.5M967.70,284.8V286.1M970.10,277.0V281.3M971.90,271.9V272.7M972.50,272.7V273.8M973.10,273.8V277.6M973.70,277.6V280.3M974.30,280.3V282.9M974.90,282.9V287.4M975.50,287.4V294.3M976.10,294.3V299.6M976.70,299.6V301.8M977.30,301.8V308.2M977.90,308.2V317.5M979.70,310.8V315.7M980.30,315.7V317.8M984.50,289.3V291.0M989.30,273.9V274.7M989.90,274.1V277.5M991.70,263.7V278.2M993.50,276.0V279.6M994.70,271.5V277.8M995.30,277.8V288.7M995.90,288.7V293.0M996.50,293.0V294.2M997.70,285.0V288.6M998.30,288.6V292.2M999.50,286.0V296.9M1000.70,288.9V293.2M1001.90,288.5V294.3M1003.10,293.6V302.6M1003.70,302.6V306.7M1006.10,274.1V278.7M1007.90,274.2V275.0M1008.50,274.2V279.3M1011.50,269.9V275.0M1012.10,275.0V281.7M1014.50,268.6V269.7M1016.90,262.3V265.1M1017.50,265.1V267.6M1018.70,265.7V269.9M1019.90,261.1V268.2M1020.50,268.2V269.0M1021.70,261.5V268.8M1023.50,254.7V266.8M1025.30,254.1V256.7M1027.10,247.7V253.3M1027.70,253.3V256.4M1028.90,250.8V251.6M1030.10,249.5V253.8M1031.30,249.9V250.7M1032.50,248.8V250.5M1033.10,250.5V255.2M1033.70,255.2V257.1M1034.30,257.1V259.3M1034.90,259.3V262.1M1035.50,262.1V272.2M1036.10,272.2V275.1M1036.70,275.1V281.2M1038.50,276.8V277.9M1039.10,277.9V279.3M1041.50,264.2V265.0M1042.10,264.7V268.0M1044.50,254.6V261.9M1045.70,255.0V261.1M1046.90,251.3V260.1M1048.10,258.0V266.3M1049.30,262.9V266.2M1050.50,259.3V267.0M1051.70,257.8V265.2M1053.50,253.5V259.4M1054.10,259.4V262.3M1054.70,262.3V273.9M1055.90,272.6V275.8M1056.50,275.8V277.1M1057.70,273.9V277.5M1058.90,267.7V278.7M1060.10,273.8V280.7M1061.30,275.8V276.6M1061.90,276.2V278.4M1062.50,278.4V282.5M1063.10,282.5V285.1M1064.30,282.9V283.7M1064.90,283.2V289.0M1065.50,289.0V290.0M1066.70,280.5V282.5M1067.30,282.5V283.4M1067.90,283.4V291.4M1070.90,280.6V289.4M1072.70,284.3V294.8M1073.90,283.6V294.5M1078.70,266.5V279.9M1079.90,268.5V273.5M1081.10,269.6V271.9M1082.30,264.8V265.6M1083.50,255.8V269.1M1085.30,257.6V262.9M1086.50,260.1V268.9M1087.70,259.9V262.9M1088.90,262.3V263.4M1090.70,260.3V264.8M1091.30,264.8V267.1M1092.50,259.0V259.8M1093.10,259.5V263.7M1093.70,263.7V270.6M1095.50,259.0V277.8M1096.10,277.8V287.5M1096.70,287.5V301.6M1100.90,256.6V260.3M1101.50,260.3V266.5M1103.30,262.0V268.8M1103.90,268.8V269.6M1104.50,269.6V271.2M1105.10,271.2V272.0M1105.70,272.0V278.1M1106.30,278.1V280.1M1106.90,280.1V288.8M1107.50,288.8V294.3M1108.70,290.0V290.8M1109.30,290.4V291.2M1110.50,289.8V291.6M1111.70,283.0V284.0M1112.30,284.0V285.2M1113.50,282.4V284.5M1114.70,281.3V286.8M1116.50,277.9V284.2M1117.10,284.2V287.1M1118.30,276.4V287.2M1118.90,287.2V292.3M1119.50,292.3V305.7M1120.10,305.7V321.2M1121.90,309.4V316.8M1122.50,316.8V319.8M1123.10,319.8V330.8M1123.70,330.8V338.9M1124.90,327.4V330.6M1126.70,300.0V300.8M1127.90,291.3V294.0M1128.50,294.0V294.8M1129.10,294.3V300.5M1129.70,300.5V301.3M1130.90,295.4V302.3M1132.70,295.4V307.0M1134.50,297.9V306.8M1135.70,305.9V311.4M1139.30,263.6V266.0M1140.50,260.7V264.5M1141.10,264.5V267.8M1142.30,262.2V263.0M1144.10,253.9V256.6M1144.70,256.6V258.4M1145.30,258.4V260.1M1146.50,256.8V261.5M1149.50,218.6V225.5M1152.50,211.3V212.8M1153.10,212.8V213.6M1153.70,213.6V219.3M1154.90,212.7V215.9M1156.70,208.9V209.8M1157.30,209.8V217.5M1158.50,210.3V217.8M1159.10,217.8V221.3M1160.90,218.7V221.0M1162.70,213.6V218.8M1163.90,213.3V214.3M1164.50,214.3V220.1M1165.10,220.1V223.0M1168.10,209.5V217.5M1169.90,206.8V218.1M1171.10,215.5V219.0M1172.90,208.4V214.3M1173.50,214.3V217.2M1174.10,217.2V218.0M1174.70,218.0V224.8M1175.90,218.0V220.9M1176.50,220.9V221.9M1177.10,221.9V222.7M1178.30,220.2V221.0M1179.50,216.5V227.6M1180.70,227.3V231.7M1181.90,227.4V229.7M1183.70,223.4V226.8M1186.70,219.5V226.9M1187.30,226.9V227.7M1189.10,221.3V227.5M1192.10,191.4V195.6M1192.70,195.6V199.1M1193.30,199.1V201.5M1194.50,191.2V195.9M1195.10,195.9V202.3M1196.90,195.8V196.6M1198.10,193.1V195.5M1201.70,164.0V170.9M1204.10,164.2V165.0M1205.30,159.5V160.3M1207.70,152.4V158.0M1208.30,158.0V161.2M1208.90,161.2V172.0M1209.50,172.0V175.2M1210.70,175.1V175.9M1211.90,175.4V178.8M1214.30,168.2V169.0M1214.90,168.5V172.9M1216.70,162.6V168.1M1218.50,154.9V161.4M1219.70,151.7V156.8M1220.90,144.6V148.6M1221.50,148.6V154.7M1222.70,151.9V154.0M1223.30,154.0V159.4M1223.90,159.4V161.7M1224.50,161.7V162.7M1225.10,162.7V163.5M1225.70,163.1V170.3M1228.10,155.2V156.0M1229.30,155.1V156.3M1229.90,156.3V158.7M1231.10,156.0V163.1M1231.70,163.1V165.9M1232.30,165.9V172.7M1233.50,169.8V172.7M1234.10,172.7V174.5M1235.90,167.4V168.2M1237.10,162.1V172.2M1238.30,160.2V162.7M1239.50,159.9V167.4M1241.30,160.1V168.6M1243.10,158.2V159.9M1244.90,155.2V156.1M1246.10,155.0V157.2M1248.50,151.1V153.3M1249.70,148.7V152.5M1251.50,146.7V152.7M1252.70,143.1V145.2M1253.30,145.2V146.0M1253.90,145.9V148.4M1255.10,144.6V145.4M1256.30,142.5V149.7M1257.50,146.7V157.3M1259.30,145.8V154.6M1260.50,150.4V153.9M1261.70,146.4V154.5M1264.10,147.8V149.5M1264.70,149.5V151.9M1265.30,151.9V162.1M1265.90,162.1V163.9M1266.50,163.9V166.7M1268.30,159.9V160.7M1270.10,152.8V156.5M1270.70,156.5V172.6M1271.30,172.6V178.3M1274.30,170.0V173.8M1275.50,168.3V173.9M1276.70,169.1V174.5M1277.90,167.0V168.2M1280.90,154.7V158.6M1281.50,158.6V160.1M1282.10,160.1V165.6M1282.70,165.6V167.9M1283.30,167.9V168.7M1283.90,168.6V172.3M1284.50,172.3V173.2M1285.70,168.0V172.2M1286.30,172.2V175.6M1287.50,169.8V171.7M1289.30,163.4V169.2M1289.90,169.2V171.6M1291.10,157.4V171.1M1292.30,163.6V173.7M1292.90,173.7V174.5M1293.50,173.9V197.7M1295.30,190.6V191.4M1297.10,188.5V191.9M1298.90,177.8V183.3M1299.50,183.3V184.1M1300.70,180.3V183.7M1301.90,173.9V198.5M1302.50,198.5V211.7M1304.90,198.3V199.4M1306.70,187.9V194.1M1307.90,191.5V192.8M1309.10,179.7V189.3M1310.30,183.1V183.9M1310.90,183.2V186.3M1311.50,186.3V192.5M1312.10,192.5V193.3M1312.70,193.1V198.1M1313.30,198.1V209.1M1314.50,204.5V206.1M1316.30,201.3V204.5M1316.90,204.5V210.0M1318.10,202.9V203.8M1319.30,201.9V206.0M1321.10,198.9V202.4M1321.70,202.4V215.0M1322.30,215.0V218.3M1326.50,183.2V187.9M1328.30,181.2V188.2M1329.50,183.6V193.8M1330.70,193.1V194.2M1331.30,194.2V200.3M1332.50,192.6V210.9M1335.50,175.3V179.6M1336.10,179.6V182.2M1336.70,182.2V183.0M1337.90,175.1V177.7M1338.50,177.7V186.3M1339.70,178.9V183.0M1340.90,178.0V182.2M1342.10,181.6V191.7M1342.70,191.7V200.7M1343.30,200.7V206.0M1343.90,206.0V211.1M1344.50,211.1V215.3M1345.10,215.3V218.5M1346.30,218.2V224.1M1346.90,224.1V233.6M1347.50,233.6V239.1M1348.70,233.8V235.9M1349.30,235.9V251.1M1349.90,251.1V251.9M1350.50,251.8V256.6M1351.10,256.6V258.5M1351.70,258.5V259.6M1352.30,259.6V267.8M1352.90,267.8V276.3M1353.50,276.3V285.4M1354.10,285.4V286.3M1354.70,286.3V309.1M1355.30,309.1V315.7M1357.70,276.1V283.7M1361.30,255.4V256.2M1361.90,255.9V258.2M1362.50,258.2V259.4M1363.70,253.3V257.9M1364.30,257.9V267.3M1364.90,267.3V270.7M1365.50,270.7V284.4M1366.10,284.4V285.2M1366.70,284.8V287.8M1367.30,287.8V291.2M1368.50,289.9V298.6M1373.90,246.9V247.7M1374.50,247.6V249.7M1376.30,241.6V247.0M1376.90,247.0V250.9M1379.90,235.9V239.8M1381.70,235.8V236.6M1384.10,224.9V227.5M1385.30,213.9V217.2M1386.50,215.8V219.2M1387.10,219.2V222.5M1388.30,220.7V223.8M1390.10,222.5V225.7M1390.70,225.7V226.5M1391.30,226.2V234.8M1391.90,234.8V235.7M1392.50,235.7V241.6M1393.10,241.6V243.6M1394.30,238.6V239.4M1394.90,239.4V242.7M1397.90,216.4V220.8M1399.10,208.6V209.6M1400.90,194.8V203.1M1401.50,203.1V206.7M1402.10,206.7V217.8M1402.70,217.8V223.8M1403.30,223.8V231.7M1403.90,231.7V243.2M1404.50,243.2V254.8M1405.10,254.8V263.5M1408.10,241.3V250.5M1409.30,241.8V252.7M1410.50,249.3V250.1M1411.10,249.9V251.8M1411.70,251.8V253.6M1412.30,253.6V275.7M1412.90,275.7V286.8M1414.10,282.3V284.7M1414.70,284.7V293.8M1415.30,293.8V295.2M1415.90,295.2V300.0M1416.50,300.0V317.6M1417.10,317.6V331.8M1420.70,307.1V311.1M1421.90,301.2V305.0M1422.50,305.0V311.4M1423.70,298.7V300.9M1424.90,298.9V309.8M1425.50,309.8V314.5M1426.10,314.5V324.6M1426.70,324.6V328.5M1427.30,328.5V342.5M1431.50,311.4V321.2M1433.90,307.0V312.6M1435.10,309.3V317.6M1436.30,316.2V320.8M1437.50,318.3V329.0M1438.10,329.0V344.2M1438.70,344.2V348.1M1440.50,346.6V348.0M1441.70,335.5V346.7M1442.30,346.7V366.4M1442.90,366.4V369.9M1446.50,332.1V343.0M1447.10,343.0V362.5M1447.70,362.5V368.4M1449.50,334.9V336.8M1451.30,324.1V325.4M1451.90,325.4V337.5M1453.10,336.0V345.6M1454.90,330.4V331.5M1455.50,331.5V335.4M1456.10,335.4V347.9M1456.70,347.9V381.6M1457.30,381.6V409.2M1461.50,379.0V380.2M1462.70,375.2V376.0M1463.30,375.7V378.2M1464.50,377.1V379.4" stroke="#f2544c" stroke-width="1.2" fill="none"/>
<path d="M7.10,716.0V726.4M10.10,721.1V730.5M11.90,748.3V751.4M13.70,727.1V731.7M15.50,723.5V730.6M16.10,716.7V724.5M17.30,708.3V717.0M21.50,743.7V749.0M23.30,719.8V728.3M24.50,712.9V736.7M30.50,702.8V713.6M32.30,685.6V703.2M42.50,711.4V718.0M43.70,722.7V728.9M58.70,651.8V662.9M59.30,660.8V666.2M62.30,631.1V642.7M72.50,610.9V619.7M74.90,612.4V622.1M76.10,611.6V614.0M79.10,612.5V619.4M85.10,565.3V571.8M88.10,556.5V573.5M88.70,561.9V573.7M91.10,565.3V574.0M97.10,555.4V566.3M98.30,568.4V578.8M106.10,564.1V575.1M109.70,548.3V551.8M110.90,547.7V554.5M111.50,548.0V551.3M114.50,533.0V542.5M115.70,529.2V539.2M122.30,519.8V532.0M122.90,528.2V536.2M124.10,532.2V547.6M126.50,537.3V557.3M127.10,534.4V545.2M128.30,526.7V541.2M130.10,523.4V526.4M136.70,518.3V524.5M139.10,520.7V530.6M145.10,520.8V528.0M149.90,495.0V504.8M151.10,489.2V495.6M152.30,490.3V494.0M156.50,480.3V481.8M160.10,480.0V496.1M161.30,505.9V514.8M166.10,511.4V513.5M174.50,479.4V489.2M175.10,478.4V490.7M178.10,481.4V492.9M178.70,480.5V483.4M185.90,480.0V488.5M188.90,482.0V482.8M190.10,480.5V485.4M212.30,526.8V533.1M215.30,501.8V503.1M215.90,501.5V508.7M218.30,496.9V510.1M224.30,505.8V537.3M227.90,528.7V534.1M229.10,528.4V535.1M233.30,513.1V528.8M238.10,491.5V500.9M239.90,497.3V507.7M252.50,475.6V487.2M253.10,475.6V482.0M253.70,475.1V483.5M269.30,486.2V496.2M271.10,475.1V489.9M274.70,472.5V478.2M279.50,487.8V496.7M283.10,501.5V506.5M283.70,500.5V506.5M285.50,508.4V516.8M287.30,506.1V518.0M290.90,504.3V509.7M292.10,505.3V516.2M297.50,503.7V509.3M298.70,508.9V512.8M305.90,530.1V536.0M307.70,533.2V542.2M311.30,584.7V595.9M313.10,572.2V576.0M313.70,570.9V580.2M316.10,559.4V572.5M318.50,554.3V559.9M319.10,547.5V562.1M322.10,579.7V591.0M328.70,594.9V597.4M329.30,590.3V599.4M329.90,593.0V604.7M332.90,562.1V567.5M336.50,556.0V563.1M337.10,555.1V566.4M339.50,526.4V542.0M341.90,528.8V534.4M344.30,534.1V544.8M352.10,578.9V593.6M359.90,630.6V636.8M365.90,617.6V624.8M368.30,617.2V620.8M368.90,620.0V626.8M369.50,622.4V628.7M377.90,673.5V681.3M381.50,681.4V695.2M383.30,645.0V673.8M384.50,635.6V641.9M387.50,654.1V660.2M388.70,655.5V662.7M392.30,630.7V639.5M394.10,625.9V632.5M397.70,590.7V599.7M400.10,598.8V609.6M400.70,604.0V610.0M416.90,623.9V640.4M424.10,659.9V672.5M425.90,680.6V692.4M427.10,672.4V676.3M438.50,584.6V592.8M439.70,578.2V588.6M445.70,572.1V578.3M446.90,563.7V578.8M447.50,567.6V583.0M448.70,565.9V596.7M450.50,593.9V600.4M451.70,594.7V614.4M453.50,605.1V616.5M454.10,609.0V610.2M455.90,593.3V599.1M457.10,579.9V595.5M460.70,546.7V557.0M462.50,540.3V548.7M464.30,540.3V551.2M469.70,550.4V553.2M470.90,545.6V558.3M471.50,554.1V559.1M472.10,554.8V556.4M480.50,523.0V548.3M481.70,536.7V541.4M490.10,555.1V568.1M491.30,541.9V559.4M494.90,537.6V546.3M495.50,542.4V548.5M496.70,539.4V544.6M499.70,532.7V540.1M501.50,529.1V536.6M502.10,532.4V535.8M505.10,537.8V541.7M505.70,538.5V543.6M506.30,534.1V540.6M506.90,530.1V548.8M508.10,536.8V549.8M523.70,536.5V542.5M524.90,543.4V564.0M525.50,557.9V567.9M526.10,557.4V566.1M529.10,551.3V557.2M531.50,545.5V555.8M535.10,545.2V547.4M535.70,544.3V547.1M540.50,539.1V547.4M544.10,551.5V569.0M545.30,567.5V575.5M545.90,572.3V579.8M547.70,578.0V588.3M553.10,574.8V584.1M555.50,545.8V576.0M556.70,534.6V536.9M560.30,518.7V535.4M562.70,530.9V538.5M566.30,530.8V544.7M567.50,534.0V539.0M568.10,535.1V542.5M575.30,512.3V516.5M577.10,501.0V518.0M580.10,515.8V522.4M581.90,517.0V530.3M582.50,514.3V537.3M584.90,513.4V518.2M587.30,509.1V515.8M592.10,513.9V521.4M593.30,515.4V522.1M599.30,501.3V510.3M601.70,483.9V496.4M604.10,486.5V493.4M605.30,481.2V487.9M609.50,492.2V500.7M611.90,484.3V492.6M612.50,480.8V492.2M623.90,459.2V463.1M628.10,460.0V462.9M629.90,455.2V460.7M630.50,457.0V462.4M638.30,476.3V480.4M640.70,470.5V476.9M641.30,473.1V478.5M651.50,500.7V504.9M653.30,470.2V505.5M654.50,453.5V470.1M656.90,445.3V447.6M657.50,446.5V447.9M660.50,446.7V451.2M661.10,446.5V450.5M662.30,446.8V454.4M667.10,469.4V479.0M671.90,460.0V482.8M673.10,461.8V464.8M673.70,460.8V472.5M674.30,464.7V472.9M674.90,461.0V467.8M675.50,460.5V463.3M676.10,455.0V461.3M676.70,456.3V460.2M679.10,455.6V464.7M681.50,448.9V459.5M682.10,449.6V462.9M682.70,452.5V462.6M685.70,454.1V463.5M695.30,417.9V430.9M698.30,428.9V436.9M700.10,423.6V427.1M703.70,423.3V432.5M707.90,403.8V414.9M715.10,410.5V418.0M718.70,415.5V418.1M719.30,408.5V417.7M719.90,405.1V421.4M730.70,387.0V392.9M733.70,381.9V389.8M737.30,374.1V400.7M739.10,384.5V388.3M744.50,363.3V370.7M746.30,364.8V367.5M746.90,365.0V376.4M754.70,371.8V382.7M755.30,370.5V380.1M757.70,369.7V375.2M767.30,372.5V381.9M768.50,374.8V378.6M769.70,371.0V373.7M772.10,355.2V363.5M782.90,344.4V351.5M784.70,338.7V351.8M791.90,345.0V349.3M798.50,323.5V332.3M799.70,323.3V329.3M804.50,307.2V326.2M807.50,320.1V325.5M817.10,341.5V359.1M818.90,341.3V344.6M820.10,340.9V347.3M821.30,341.4V357.4M832.10,321.4V323.0M833.90,322.8V326.9M835.10,325.4V331.7M838.70,306.8V317.2M847.10,294.2V308.6M847.70,288.5V301.1M850.10,295.0V300.7M851.30,298.1V308.6M854.30,309.3V312.7M859.10,292.1V292.7M860.90,304.8V308.9M866.30,295.8V300.4M866.90,289.0V306.9M872.90,331.3V342.6M874.70,331.0V333.9M876.50,322.0V334.6M881.90,330.8V345.4M883.70,345.9V349.8M884.90,340.7V350.9M886.70,348.0V364.0M890.30,382.0V388.2M890.90,387.0V395.1M891.50,383.8V394.4M902.30,331.1V336.1M913.10,320.9V328.8M924.50,281.0V304.8M926.30,286.2V288.9M934.10,261.2V267.8M937.10,259.5V266.9M938.30,267.6V271.6M940.10,261.6V269.0M941.30,259.9V266.1M941.90,257.2V263.8M944.30,258.6V262.2M947.30,257.7V261.0M955.70,294.5V296.2M959.90,284.0V293.8M965.90,277.1V297.5M983.90,287.1V293.0M986.30,280.5V288.2M987.50,274.1V283.0M991.70,257.8V280.0M992.30,276.8V278.6M997.10,281.5V299.2M1000.70,287.9V293.6M1001.30,282.4V293.2M1003.10,289.5V304.7M1005.50,271.6V286.7M1007.90,270.1V274.9M1019.90,259.2V269.2M1020.50,263.2V268.7M1021.10,260.8V269.7M1022.30,253.9V283.0M1024.70,253.6V260.7M1031.30,248.7V250.6M1031.90,248.3V252.9M1032.50,248.8V252.3M1033.10,247.3V257.0M1034.30,254.6V261.1M1035.50,262.1V272.4M1036.10,270.8V277.7M1040.90,260.2V271.1M1045.70,246.5V261.8M1046.30,248.4V261.2M1047.50,256.5V260.3M1049.30,258.2V269.5M1049.90,258.6V266.7M1050.50,258.3V267.5M1054.70,260.8V275.8M1058.30,267.7V281.1M1062.50,278.2V286.8M1068.50,288.1V292.6M1069.70,285.3V290.9M1073.30,283.3V298.0M1076.30,275.4V285.5M1077.50,267.9V276.2M1080.50,268.5V274.1M1082.90,254.5V274.8M1084.10,265.1V270.2M1085.30,255.8V263.0M1087.70,259.5V265.7M1088.30,255.2V263.0M1091.90,255.0V269.9M1099.10,266.2V271.1M1107.50,286.5V295.0M1108.70,285.9V291.8M1109.30,288.9V291.0M1112.30,281.1V286.0M1120.70,314.6V322.4M1121.30,308.2V315.4M1126.70,299.3V302.1M1127.90,285.3V299.7M1130.90,294.7V302.6M1132.10,292.6V298.0M1132.70,293.6V308.2M1139.30,262.3V266.8M1139.90,258.5V266.1M1141.70,259.5V275.3M1142.30,260.6V264.3M1142.90,258.1V265.1M1144.10,252.7V258.2M1144.70,255.8V264.7M1145.90,253.6V261.6M1146.50,256.7V262.5M1147.10,247.8V262.0M1152.50,211.1V213.0M1154.30,211.7V220.8M1160.30,218.2V220.0M1160.90,215.0V222.2M1161.50,213.9V221.5M1162.70,210.9V220.4M1165.70,216.8V227.5M1169.90,206.3V219.0M1170.50,213.1V218.6M1174.10,217.1V218.3M1175.30,217.5V224.9M1176.50,217.6V223.4M1205.30,157.2V160.5M1208.30,157.2V161.9M1208.90,156.6V174.4M1209.50,171.2V177.0M1216.10,159.1V166.1M1219.70,149.3V163.2M1223.30,151.4V160.0M1226.90,161.2V168.0M1231.10,155.4V163.3M1237.70,159.9V174.1M1239.50,158.7V167.5M1243.10,158.2V164.0M1246.70,155.7V157.6M1252.70,141.0V147.0M1253.90,144.9V151.3M1259.30,144.5V154.7M1262.90,147.3V154.4M1268.30,159.4V160.6M1274.30,166.0V178.7M1276.70,168.9V181.7M1281.50,156.4V161.1M1283.90,167.8V172.9M1292.90,170.3V174.4M1294.10,195.6V201.1M1296.50,187.0V189.5M1305.50,194.4V201.1M1306.70,187.2V195.1M1307.30,184.2V196.5M1307.90,190.0V195.7M1309.10,178.8V189.5M1309.70,182.2V189.8M1312.70,189.1V199.2M1313.90,203.1V217.4M1315.10,198.8V206.3M1316.90,203.8V211.5M1319.30,201.5V209.2M1330.70,189.6V194.7M1331.30,194.0V200.6M1333.10,201.6V212.8M1334.30,197.8V202.5M1334.90,175.0V201.1M1337.30,174.3V183.7M1341.50,179.5V183.1M1344.50,209.5V216.1M1348.10,233.7V240.9M1350.50,251.7V260.2M1351.10,255.0V259.2M1354.70,283.1V309.2M1358.90,272.8V276.8M1360.70,254.8V270.0M1364.30,256.9V268.6M1369.10,291.4V300.5M1372.10,260.7V265.4M1377.50,242.6V251.9M1379.90,235.4V240.2M1382.90,224.9V230.1M1384.70,212.8V227.8M1388.30,220.6V224.8M1388.90,221.9V224.4M1390.10,219.0V229.0M1401.50,201.7V207.7M1402.70,217.1V224.3M1403.90,228.5V245.2M1412.30,252.6V277.9M1413.50,281.4V289.9M1415.90,294.2V301.6M1417.70,323.2V332.5M1419.50,312.6V328.7M1420.70,304.4V312.4M1424.90,296.1V309.9M1425.50,309.1V317.8M1427.30,327.9V342.9M1428.50,325.2V333.3M1430.90,311.0V329.3M1432.10,307.9V321.4M1436.90,317.5V322.6M1438.10,328.4V345.8M1439.90,346.3V348.9M1441.10,334.6V350.0M1444.70,350.7V355.0M1445.90,330.5V344.9M1450.70,323.9V335.9M1454.30,329.4V339.8M1455.50,329.8V338.5M1456.10,330.8V349.2" stroke="#5c5c5c" stroke-width="0.8" fill="none" opacity="0.8"/>
<line x1="873" y1="398" x2="1482.5" y2="398" stroke="#aef3f8" stroke-width="4.5"/>
<path d="M1240,151 L1264,151 L1264,300 L1277,300 L1254,341 L1230,300 L1240,300 Z" fill="#9f9fa8"/>
<line x1="145.5" y1="476.8" x2="1764.5" y2="476.8" stroke="#0000f0" stroke-width="5"/>
<line x1="1412" y1="204.6" x2="1536" y2="254.5" stroke="#3ca08c" stroke-width="1.1"/>
<line x1="1253" y1="142" x2="1665" y2="297" stroke="#ff00ff" stroke-width="5"/>
<line x1="1404.5" y1="205" x2="1512.5" y2="460" stroke="#ff00ff" stroke-width="5"/>
<path d="M1469.2,323.4 L1474.0,320.2 L1484.8,337.1 L1486.9,335.8 L1487.4,346.6 L1477.8,341.6 L1479.9,340.2 Z" fill="#000"/>
<line x1="1798.5" y1="3" x2="1798.5" y2="858.5" stroke="#4a4a4a" stroke-width="1"/>
<line x1="0" y1="858.5" x2="1798.5" y2="858.5" stroke="#4a4a4a" stroke-width="1"/>
<line x1="1799" y1="7.8" x2="1802" y2="7.8" stroke="#555" stroke-width="1"/>
<text x="1805" y="12.1" font-size="9.4" fill="#6a6a6a" stroke="#6a6a6a" stroke-width="0.15" textLength="35" lengthAdjust="spacingAndGlyphs">16400.0</text>
<line x1="1799" y1="47.5" x2="1802" y2="47.5" stroke="#555" stroke-width="1"/>
<text x="1805" y="51.8" font-size="9.4" fill="#6a6a6a" stroke="#6a6a6a" stroke-width="0.15" textLength="35" lengthAdjust="spacingAndGlyphs">16200.0</text>
<line x1="1799" y1="87.3" x2="1802" y2="87.3" stroke="#555" stroke-width="1"/>
<text x="1805" y="91.6" font-size="9.4" fill="#6a6a6a" stroke="#6a6a6a" stroke-width="0.15" textLength="35" lengthAdjust="spacingAndGlyphs">16000.0</text>
<line x1="1799" y1="127.1" x2="1802" y2="127.1" stroke="#555" stroke-width="1"/>
<text x="1805" y="131.4" font-size="9.4" fill="#6a6a6a" stroke="#6a6a6a" stroke-width="0.15" textLength="35" lengthAdjust="spacingAndGlyphs">15800.0</text>
<line x1="1799" y1="166.8" x2="1802" y2="166.8" stroke="#555" stroke-width="1"/>
<text x="1805" y="171.1" font-size="9.4" fill="#6a6a6a" stroke="#6a6a6a" stroke-width="0.15" textLength="35" lengthAdjust="spacingAndGlyphs">15600.0</text>
<line x1="1799" y1="206.6" x2="1802" y2="206.6" stroke="#555" stroke-width="1"/>
<text x="1805" y="210.9" font-size="9.4" fill="#6a6a6a" stroke="#6a6a6a" stroke-width="0.15" textLength="35" lengthAdjust="spacingAndGlyphs">15400.0</text>
<line x1="1799" y1="246.4" x2="1802" y2="246.4" stroke="#555" stroke-width="1"/>
<text x="1805" y="250.7" font-size="9.4" fill="#6a6a6a" stroke="#6a6a6a" stroke-width="0.15" textLength="35" lengthAdjust="spacingAndGlyphs">15200.0</text>
<line x1="1799" y1="286.1" x2="1802" y2="286.1" stroke="#555" stroke-width="1"/>
<text x="1805" y="290.4" font-size="9.4" fill="#6a6a6a" stroke="#6a6a6a" stroke-width="0.15" textLength="35" lengthAdjust="spacingAndGlyphs">15000.0</text>
<line x1="1799" y1="325.9" x2="1802" y2="325.9" stroke="#555" stroke-width="1"/>
<text x="1805" y="330.2" font-size="9.4" fill="#6a6a6a" stroke="#6a6a6a" stroke-width="0.15" textLength="35" lengthAdjust="spacingAndGlyphs">14800.0</text>
<line x1="1799" y1="365.7" x2="1802" y2="365.7" stroke="#555" stroke-width="1"/>
<text x="1805" y="370.0" font-size="9.4" fill="#6a6a6a" stroke="#6a6a6a" stroke-width="0.15" textLength="35" lengthAdjust="spacingAndGlyphs">14600.0</text>
<line x1="1799" y1="405.5" x2="1802" y2="405.5" stroke="#555" stroke-width="1"/>
<text x="1805" y="409.8" font-size="9.4" fill="#6a6a6a" stroke="#6a6a6a" stroke-width="0.15" textLength="35" lengthAdjust="spacingAndGlyphs">14400.0</text>
<line x1="1799" y1="445.2" x2="1802" y2="445.2" stroke="#555" stroke-width="1"/>
<text x="1805" y="449.5" font-size="9.4" fill="#6a6a6a" stroke="#6a6a6a" stroke-width="0.15" textLength="35" lengthAdjust="spacingAndGlyphs">14200.0</text>
<line x1="1799" y1="485.0" x2="1802" y2="485.0" stroke="#555" stroke-width="1"/>
<text x="1805" y="489.3" font-size="9.4" fill="#6a6a6a" stroke="#6a6a6a" stroke-width="0.15" textLength="35" lengthAdjust="spacingAndGlyphs">14000.0</text>
<line x1="1799" y1="524.8" x2="1802" y2="524.8" stroke="#555" stroke-width="1"/>
<text x="1805" y="529.1" font-size="9.4" fill="#6a6a6a" stroke="#6a6a6a" stroke-width="0.15" textLength="35" lengthAdjust="spacingAndGlyphs">13800.0</text>
<line x1="1799" y1="564.5" x2="1802" y2="564.5" stroke="#555" stroke-width="1"/>
<text x="1805" y="568.8" font-size="9.4" fill="#6a6a6a" stroke="#6a6a6a" stroke-width="0.15" textLength="35" lengthAdjust="spacingAndGlyphs">13600.0</text>
<line x1="1799" y1="604.3" x2="1802" y2="604.3" stroke="#555" stroke-width="1"/>
<text x="1805" y="608.6" font-size="9.4" fill="#6a6a6a" stroke="#6a6a6a" stroke-width="0.15" textLength="35" lengthAdjust="spacingAndGlyphs">13400.0</text>
<line x1="1799" y1="644.1" x2="1802" y2="644.1" stroke="#555" stroke-width="1"/>
<text x="1805" y="648.4" font-size="9.4" fill="#6a6a6a" stroke="#6a6a6a" stroke-width="0.15" textLength="35" lengthAdjust="spacingAndGlyphs">13200.0</text>
<line x1="1799" y1="683.8" x2="1802" y2="683.8" stroke="#555" stroke-width="1"/>
<text x="1805" y="688.1" font-size="9.4" fill="#6a6a6a" stroke="#6a6a6a" stroke-width="0.15" textLength="35" lengthAdjust="spacingAndGlyphs">13000.0</text>
<line x1="1799" y1="723.6" x2="1802" y2="723.6" stroke="#555" stroke-width="1"/>
<text x="1805" y="727.9" font-size="9.4" fill="#6a6a6a" stroke="#6a6a6a" stroke-width="0.15" textLength="35" lengthAdjust="spacingAndGlyphs">12800.0</text>
<line x1="1799" y1="763.4" x2="1802" y2="763.4" stroke="#555" stroke-width="1"/>
<text x="1805" y="767.7" font-size="9.4" fill="#6a6a6a" stroke="#6a6a6a" stroke-width="0.15" textLength="35" lengthAdjust="spacingAndGlyphs">12600.0</text>
<line x1="1799" y1="803.2" x2="1802" y2="803.2" stroke="#555" stroke-width="1"/>
<text x="1805" y="807.5" font-size="9.4" fill="#6a6a6a" stroke="#6a6a6a" stroke-width="0.15" textLength="35" lengthAdjust="spacingAndGlyphs">12400.0</text>
<line x1="1799" y1="842.9" x2="1802" y2="842.9" stroke="#555" stroke-width="1"/>
<text x="1805" y="847.2" font-size="9.4" fill="#6a6a6a" stroke="#6a6a6a" stroke-width="0.15" textLength="35" lengthAdjust="spacingAndGlyphs">12200.0</text>
<line x1="58.6" y1="858.5" x2="58.6" y2="861.5" stroke="#555" stroke-width="1"/>
<text x="58.6" y="871.5" font-size="10" font-weight="bold" fill="#707070" text-anchor="middle">Abr</text>
<line x1="130.8" y1="858.5" x2="130.8" y2="861.5" stroke="#555" stroke-width="1"/>
<text x="130.8" y="871.5" font-size="10" font-weight="bold" fill="#707070" text-anchor="middle">11</text>
<line x1="207.3" y1="858.5" x2="207.3" y2="861.5" stroke="#555" stroke-width="1"/>
<text x="207.3" y="871.5" font-size="10" font-weight="bold" fill="#707070" text-anchor="middle">21</text>
<line x1="292.0" y1="858.5" x2="292.0" y2="861.5" stroke="#555" stroke-width="1"/>
<text x="292.0" y="871.5" font-size="10" font-weight="bold" fill="#707070" text-anchor="middle">May</text>
<line x1="366.3" y1="858.5" x2="366.3" y2="861.5" stroke="#555" stroke-width="1"/>
<text x="366.3" y="871.5" font-size="10" font-weight="bold" fill="#707070" text-anchor="middle">12</text>
<line x1="442.3" y1="858.5" x2="442.3" y2="861.5" stroke="#555" stroke-width="1"/>
<text x="442.3" y="871.5" font-size="10" font-weight="bold" fill="#707070" text-anchor="middle">21</text>
<line x1="517.7" y1="858.5" x2="517.7" y2="861.5" stroke="#555" stroke-width="1"/>
<text x="517.7" y="871.5" font-size="10" font-weight="bold" fill="#707070" text-anchor="middle">Jun</text>
<line x1="593.3" y1="858.5" x2="593.3" y2="861.5" stroke="#555" stroke-width="1"/>
<text x="593.3" y="871.5" font-size="10" font-weight="bold" fill="#707070" text-anchor="middle">10</text>
<line x1="668.8" y1="858.5" x2="668.8" y2="861.5" stroke="#555" stroke-width="1"/>
<text x="668.8" y="871.5" font-size="10" font-weight="bold" fill="#707070" text-anchor="middle">20</text>
<line x1="755.4" y1="858.5" x2="755.4" y2="861.5" stroke="#555" stroke-width="1"/>
<text x="755.4" y="871.5" font-size="10" font-weight="bold" fill="#707070" text-anchor="middle">Jul</text>
<line x1="830.6" y1="858.5" x2="830.6" y2="861.5" stroke="#555" stroke-width="1"/>
<text x="830.6" y="871.5" font-size="10" font-weight="bold" fill="#707070" text-anchor="middle">11</text>
<line x1="904.3" y1="858.5" x2="904.3" y2="861.5" stroke="#555" stroke-width="1"/>
<text x="904.3" y="871.5" font-size="10" font-weight="bold" fill="#707070" text-anchor="middle">21</text>
<line x1="986.7" y1="858.5" x2="986.7" y2="861.5" stroke="#555" stroke-width="1"/>
<text x="986.7" y="871.5" font-size="10" font-weight="bold" fill="#707070" text-anchor="middle">Ago</text>
<line x1="1059.4" y1="858.5" x2="1059.4" y2="861.5" stroke="#555" stroke-width="1"/>
<text x="1059.4" y="871.5" font-size="10" font-weight="bold" fill="#707070" text-anchor="middle">11</text>
<line x1="1131.2" y1="858.5" x2="1131.2" y2="861.5" stroke="#555" stroke-width="1"/>
<text x="1131.2" y="871.5" font-size="10" font-weight="bold" fill="#707070" text-anchor="middle">20</text>
<line x1="1214.4" y1="858.5" x2="1214.4" y2="861.5" stroke="#555" stroke-width="1"/>
<text x="1214.4" y="871.5" font-size="10" font-weight="bold" fill="#707070" text-anchor="middle">Sep</text>
<line x1="1285.2" y1="858.5" x2="1285.2" y2="861.5" stroke="#555" stroke-width="1"/>
<text x="1285.2" y="871.5" font-size="10" font-weight="bold" fill="#707070" text-anchor="middle">10</text>
<line x1="1357.0" y1="858.5" x2="1357.0" y2="861.5" stroke="#555" stroke-width="1"/>
<text x="1357.0" y="871.5" font-size="10" font-weight="bold" fill="#707070" text-anchor="middle">21</text>
<line x1="1440.2" y1="858.5" x2="1440.2" y2="861.5" stroke="#555" stroke-width="1"/>
<text x="1440.2" y="871.5" font-size="10" font-weight="bold" fill="#707070" text-anchor="middle">Oct</text>
<line x1="1514.6" y1="858.5" x2="1514.6" y2="861.5" stroke="#555" stroke-width="1"/>
<text x="1514.6" y="871.5" font-size="10" font-weight="bold" fill="#707070" text-anchor="middle">12</text>
<line x1="1590.0" y1="858.5" x2="1590.0" y2="861.5" stroke="#555" stroke-width="1"/>
<text x="1590.0" y="871.5" font-size="10" font-weight="bold" fill="#707070" text-anchor="middle">21</text>
<rect x="1798" y="304.3" width="46" height="14.3" fill="#f40000"/>
<text x="1805" y="315" font-size="10" font-weight="bold" fill="#fff" textLength="35" lengthAdjust="spacingAndGlyphs">14875.3</text>
<rect x="1798" y="367.5" width="46" height="14.3" fill="#4a78dc"/>
<text x="1805" y="378.2" font-size="10" font-weight="bold" fill="#fff" textLength="35" lengthAdjust="spacingAndGlyphs">14556.1</text>
<rect x="4.5" y="16" width="10" height="10.5" fill="none" stroke="#777" stroke-width="1" rx="1"/><line x1="6" y1="21" x2="13" y2="21" stroke="#777" stroke-width="1.2"/>
<text x="21.2" y="26.8" font-size="14.5" fill="#4d4d4d" textLength="381" lengthAdjust="spacingAndGlyphs">US Tech 100 Cash, Estados Unidos, 60, US Indexes (CFD)</text>
<path d="M407,20 L414,20 L410.5,24 Z" fill="#bbb"/>
<rect x="423" y="16.2" width="12" height="12.8" fill="#d8d8d8"/><circle cx="429" cy="22.6" r="3.2" fill="none" stroke="#fff" stroke-width="1.6"/>
<rect x="438" y="16.2" width="13" height="12.8" fill="#d8d8d8"/><circle cx="444.5" cy="22.6" r="3.8" fill="#fff"/><path d="M444.5,17.8V27.4M439.7,22.6H449.3M441.1,19.2L447.9,26M447.9,19.2L441.1,26" stroke="#fff" stroke-width="1.3"/><circle cx="444.5" cy="22.6" r="1.5" fill="#d8d8d8"/>
<text x="457.8" y="26.2" font-size="12" fill="#333">O</text>
<text x="469.8" y="26.2" font-size="12" fill="#333" textLength="44.3" lengthAdjust="spacingAndGlyphs">14543.6</text>
<text x="524.1" y="26.2" font-size="12" fill="#333">H</text>
<text x="535.3" y="26.2" font-size="12" fill="#333" textLength="45.2" lengthAdjust="spacingAndGlyphs">14562.8</text>
<text x="589.9" y="26.2" font-size="12" fill="#333">L</text>
<text x="598.6" y="26.2" font-size="12" fill="#333" textLength="45" lengthAdjust="spacingAndGlyphs">14540.1</text>
<text x="653.7" y="26.2" font-size="12" fill="#333">C</text>
<text x="664.1" y="26.2" font-size="12" fill="#333" textLength="44.9" lengthAdjust="spacingAndGlyphs">14556.1</text>
<text x="4.4" y="44.6" font-size="10.5" fill="#4d4d4d" textLength="90.6" lengthAdjust="spacingAndGlyphs">EMA (200, close, 0)</text>
<path d="M100,39 L107,39 L103.5,42.5 Z" fill="#ccc"/>
<rect x="116" y="35.1" width="11.8" height="11.6" fill="#d8d8d8"/><circle cx="121.9" cy="40.9" r="3" fill="none" stroke="#fff" stroke-width="1.6"/>
<rect x="131" y="35.1" width="11.8" height="11.6" fill="#d8d8d8"/><circle cx="136.9" cy="40.9" r="3.6" fill="#fff"/><circle cx="136.9" cy="40.9" r="1.4" fill="#d8d8d8"/><path d="M136.9,36.3V45.5M132.3,40.9H141.5M133.6,37.6L140.2,44.2M140.2,37.6L133.6,44.2" stroke="#fff" stroke-width="1.3"/><circle cx="136.9" cy="40.9" r="1.4" fill="#d8d8d8"/>
<rect x="146.2" y="35.1" width="12.7" height="11.6" fill="#d8d8d8"/><path d="M148.5,37.2L156.6,44.6M156.6,37.2L148.5,44.6" stroke="#fff" stroke-width="1.6"/>
<text x="167" y="44.6" font-size="10.5" fill="#f01c1c" textLength="53.5" lengthAdjust="spacingAndGlyphs">14875.3255</text>
<text x="1412.1" y="497.6" font-size="15.7" fill="#000" stroke="#000" stroke-width="0.55" textLength="287.4" lengthAdjust="spacingAndGlyphs">APOYO ESPERADO: MAXIMOS ABRIL</text>
<text x="1312.7" y="816" font-size="16" fill="#000" stroke="#000" stroke-width="0.55" textLength="275.3" lengthAdjust="spacingAndGlyphs">WWW.INVERTIRYESPECULAR.COM</text>
<path d="M1439,353 L1462.5,353 L1462.5,492.7 L1471,492.7 L1451.3,531.8 L1430,492.7 L1439,492.7 Z" fill="rgba(150,150,150,0.34)"/>
<text x="11.4" y="842.7" font-size="18" font-weight="bold" fill="#111" stroke="#111" stroke-width="0.8" textLength="80.7" lengthAdjust="spacingAndGlyphs">Investing</text>
<text x="92.5" y="842.7" font-size="13" fill="#555" textLength="26" lengthAdjust="spacingAndGlyphs">.com</text>
<circle cx="67.2" cy="829.4" r="2.1" fill="#f7a21b"/>
</svg></body></html>
